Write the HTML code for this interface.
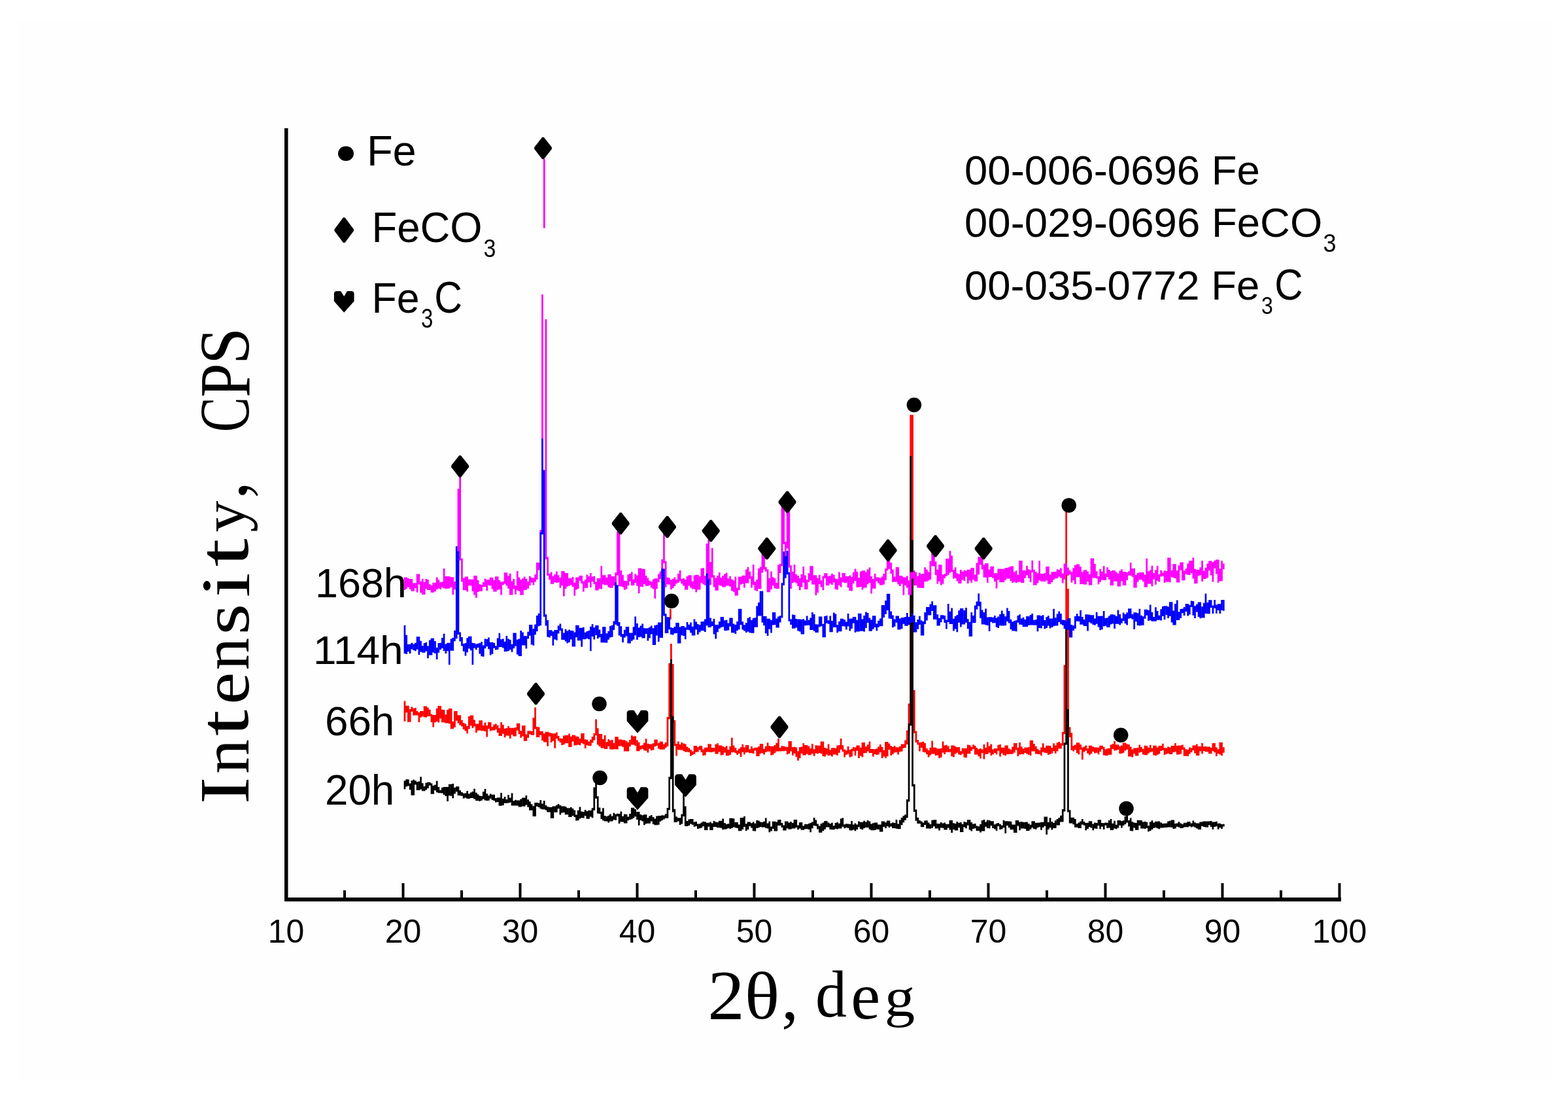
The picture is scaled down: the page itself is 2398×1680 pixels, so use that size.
<!DOCTYPE html>
<html><head><meta charset="utf-8"><title>XRD patterns</title>
<style>html,body{margin:0;padding:0;background:#fff;overflow:hidden;} svg{display:block;}</style>
</head><body>
<svg width="2398" height="1680" viewBox="0 0 2398 1680">
<rect x="0" y="0" width="2398" height="1680" fill="#ffffff"/>
<rect x="27" y="30" width="2348" height="1621" fill="#fefefe"/>
<rect x="435" y="196" width="5.5" height="1182" fill="#000"/><rect x="435" y="1372" width="1616" height="6" fill="#000"/><rect x="525.0" y="1361" width="4" height="13" fill="#000"/><rect x="614.5" y="1350" width="4" height="24" fill="#000"/><rect x="704.0" y="1361" width="4" height="13" fill="#000"/><rect x="793.5" y="1350" width="4" height="24" fill="#000"/><rect x="883.0" y="1361" width="4" height="13" fill="#000"/><rect x="972.5" y="1350" width="4" height="24" fill="#000"/><rect x="1062.0" y="1361" width="4" height="13" fill="#000"/><rect x="1151.5" y="1350" width="4" height="24" fill="#000"/><rect x="1241.0" y="1361" width="4" height="13" fill="#000"/><rect x="1330.5" y="1350" width="4" height="24" fill="#000"/><rect x="1420.0" y="1361" width="4" height="13" fill="#000"/><rect x="1509.5" y="1350" width="4" height="24" fill="#000"/><rect x="1599.0" y="1361" width="4" height="13" fill="#000"/><rect x="1688.5" y="1350" width="4" height="24" fill="#000"/><rect x="1778.0" y="1361" width="4" height="13" fill="#000"/><rect x="1867.5" y="1350" width="4" height="24" fill="#000"/><rect x="1957.0" y="1361" width="4" height="13" fill="#000"/><rect x="2046.5" y="1350" width="4" height="24" fill="#000"/>
<path fill="#ff0000" d="M617.6 1071.4h2.7V1102.7h-2.7ZM620.3 1078.8h2.7V1089.2h-2.7ZM623.0 1078.8h2.7V1103.8h-2.7ZM625.8 1083.9h2.7V1103.8h-2.7ZM628.5 1080.6h2.7V1087.9h-2.7ZM631.3 1083.0h2.7V1093.5h-2.7ZM634.0 1081.9h2.7V1093.6h-2.7ZM636.7 1087.1h2.7V1093.6h-2.7ZM639.5 1089.1h2.7V1104.0h-2.7ZM642.2 1087.1h2.7V1096.8h-2.7ZM644.9 1087.1h2.7V1095.2h-2.7ZM647.7 1079.4h2.7V1096.3h-2.7ZM650.4 1079.4h2.7V1096.7h-2.7ZM653.1 1081.8h2.7V1095.1h-2.7ZM655.9 1084.7h2.7V1094.9h-2.7ZM658.6 1091.5h2.7V1104.1h-2.7ZM661.3 1092.9h2.7V1111.6h-2.7ZM664.1 1092.9h2.7V1104.4h-2.7ZM666.8 1082.9h2.7V1103.1h-2.7ZM669.5 1079.0h2.7V1104.6h-2.7ZM672.3 1079.0h2.7V1098.6h-2.7ZM675.0 1084.7h2.7V1104.3h-2.7ZM677.7 1085.2h2.7V1104.3h-2.7ZM680.5 1092.3h2.7V1105.4h-2.7ZM683.2 1085.1h2.7V1105.4h-2.7ZM685.9 1083.1h2.7V1106.2h-2.7ZM688.7 1083.1h2.7V1114.3h-2.7ZM691.4 1102.9h2.7V1114.3h-2.7ZM694.1 1087.0h2.7V1112.0h-2.7ZM696.9 1087.0h2.7V1101.8h-2.7ZM699.6 1093.3h2.7V1105.5h-2.7ZM702.3 1093.3h2.7V1108.4h-2.7ZM705.1 1100.8h2.7V1110.5h-2.7ZM707.8 1105.1h2.7V1114.9h-2.7ZM710.6 1106.6h2.7V1117.5h-2.7ZM713.3 1110.0h2.7V1121.2h-2.7ZM716.0 1095.0h2.7V1114.5h-2.7ZM718.8 1093.6h2.7V1109.3h-2.7ZM721.5 1093.6h2.7V1113.1h-2.7ZM724.2 1100.5h2.7V1110.5h-2.7ZM727.0 1106.5h2.7V1120.0h-2.7ZM729.7 1106.5h2.7V1116.8h-2.7ZM732.4 1101.2h2.7V1116.6h-2.7ZM735.2 1101.2h2.7V1117.2h-2.7ZM737.9 1109.0h2.7V1117.2h-2.7ZM740.6 1104.4h2.7V1118.1h-2.7ZM743.4 1109.1h2.7V1126.6h-2.7ZM746.1 1103.9h2.7V1114.1h-2.7ZM748.8 1103.9h2.7V1117.4h-2.7ZM751.6 1110.9h2.7V1116.6h-2.7ZM754.3 1107.6h2.7V1116.6h-2.7ZM757.0 1106.5h2.7V1114.9h-2.7ZM759.8 1108.8h2.7V1119.9h-2.7ZM762.5 1113.2h2.7V1125.1h-2.7ZM765.2 1103.9h2.7V1125.1h-2.7ZM768.0 1107.9h2.7V1121.8h-2.7ZM770.7 1113.8h2.7V1127.3h-2.7ZM773.4 1112.9h2.7V1124.5h-2.7ZM776.2 1110.0h2.7V1124.7h-2.7ZM778.9 1112.7h2.7V1128.9h-2.7ZM781.7 1112.7h2.7V1122.9h-2.7ZM784.4 1112.7h2.7V1125.4h-2.7ZM787.1 1112.0h2.7V1125.4h-2.7ZM789.9 1105.7h2.7V1116.7h-2.7ZM792.6 1105.7h2.7V1122.0h-2.7ZM795.3 1117.3h2.7V1127.8h-2.7ZM798.1 1108.9h2.7V1125.6h-2.7ZM800.8 1108.9h2.7V1132.8h-2.7ZM803.5 1122.5h2.7V1132.8h-2.7ZM806.3 1117.3h2.7V1127.9h-2.7ZM809.0 1117.3h2.7V1122.2h-2.7ZM811.7 1117.7h2.7V1123.7h-2.7ZM814.5 1097.2h2.7V1123.7h-2.7ZM817.2 1081.5h2.7V1114.5h-2.7ZM819.9 1111.1h2.7V1126.9h-2.7ZM822.7 1111.6h2.7V1126.9h-2.7ZM825.4 1117.8h2.7V1123.7h-2.7ZM828.1 1117.8h2.7V1132.0h-2.7ZM830.9 1121.2h2.7V1134.6h-2.7ZM833.6 1118.8h2.7V1134.6h-2.7ZM836.3 1118.8h2.7V1140.7h-2.7ZM839.1 1119.8h2.7V1125.7h-2.7ZM841.8 1120.7h2.7V1134.9h-2.7ZM844.5 1121.3h2.7V1132.8h-2.7ZM847.3 1121.3h2.7V1143.8h-2.7ZM850.0 1119.5h2.7V1129.0h-2.7ZM852.7 1125.1h2.7V1132.6h-2.7ZM855.5 1128.5h2.7V1135.1h-2.7ZM858.2 1128.9h2.7V1139.1h-2.7ZM861.0 1124.4h2.7V1138.3h-2.7ZM863.7 1124.1h2.7V1136.3h-2.7ZM866.4 1124.1h2.7V1135.9h-2.7ZM869.2 1121.4h2.7V1142.0h-2.7ZM871.9 1125.8h2.7V1142.0h-2.7ZM874.6 1123.6h2.7V1133.4h-2.7ZM877.4 1123.8h2.7V1139.4h-2.7ZM880.1 1125.7h2.7V1139.2h-2.7ZM882.8 1126.0h2.7V1138.6h-2.7ZM885.6 1128.9h2.7V1139.3h-2.7ZM888.3 1120.9h2.7V1135.8h-2.7ZM891.0 1120.9h2.7V1137.5h-2.7ZM893.8 1130.3h2.7V1144.1h-2.7ZM896.5 1130.7h2.7V1139.2h-2.7ZM899.2 1133.6h2.7V1140.3h-2.7ZM902.0 1130.7h2.7V1140.3h-2.7ZM904.7 1126.1h2.7V1135.4h-2.7ZM907.4 1120.9h2.7V1131.5h-2.7ZM910.2 1099.6h2.7V1124.3h-2.7ZM912.9 1113.2h2.7V1138.5h-2.7ZM915.6 1121.9h2.7V1141.0h-2.7ZM918.4 1121.9h2.7V1143.6h-2.7ZM921.1 1129.7h2.7V1143.6h-2.7ZM923.8 1124.1h2.7V1145.0h-2.7ZM926.6 1134.3h2.7V1145.0h-2.7ZM929.3 1129.9h2.7V1140.7h-2.7ZM932.0 1131.7h2.7V1145.6h-2.7ZM934.8 1131.0h2.7V1145.8h-2.7ZM937.5 1135.7h2.7V1145.2h-2.7ZM940.3 1126.3h2.7V1145.2h-2.7ZM943.0 1126.3h2.7V1145.6h-2.7ZM945.7 1130.4h2.7V1140.4h-2.7ZM948.5 1130.3h2.7V1140.4h-2.7ZM951.2 1131.2h2.7V1141.8h-2.7ZM953.9 1131.2h2.7V1148.4h-2.7ZM956.7 1132.8h2.7V1148.5h-2.7ZM959.4 1134.8h2.7V1148.5h-2.7ZM962.1 1131.1h2.7V1141.2h-2.7ZM964.9 1124.3h2.7V1138.5h-2.7ZM967.6 1125.7h2.7V1138.5h-2.7ZM970.3 1125.3h2.7V1140.1h-2.7ZM973.1 1131.5h2.7V1148.2h-2.7ZM975.8 1134.8h2.7V1148.2h-2.7ZM978.5 1140.0h2.7V1145.8h-2.7ZM981.3 1138.7h2.7V1144.7h-2.7ZM984.0 1135.6h2.7V1147.2h-2.7ZM986.7 1129.3h2.7V1147.7h-2.7ZM989.5 1136.7h2.7V1150.4h-2.7ZM992.2 1137.5h2.7V1144.8h-2.7ZM994.9 1137.5h2.7V1147.3h-2.7ZM997.7 1136.3h2.7V1146.5h-2.7ZM1000.4 1130.6h2.7V1141.3h-2.7ZM1003.1 1130.6h2.7V1140.0h-2.7ZM1005.9 1136.1h2.7V1144.4h-2.7ZM1008.6 1133.5h2.7V1145.7h-2.7ZM1011.3 1133.7h2.7V1145.7h-2.7ZM1014.1 1137.5h2.7V1145.7h-2.7ZM1016.8 1134.8h2.7V1143.2h-2.7ZM1019.6 1096.1h2.7V1140.9h-2.7ZM1022.3 1013.8h2.7V1099.5h-2.7ZM1025.0 984.0h2.7V1018.4h-2.7ZM1027.8 1015.0h2.7V1104.5h-2.7ZM1030.5 1101.1h2.7V1140.5h-2.7ZM1033.2 1137.1h2.7V1155.6h-2.7ZM1036.0 1133.6h2.7V1146.3h-2.7ZM1038.7 1138.1h2.7V1146.5h-2.7ZM1041.4 1134.9h2.7V1146.5h-2.7ZM1044.2 1136.5h2.7V1147.9h-2.7ZM1046.9 1137.6h2.7V1149.5h-2.7ZM1049.6 1141.6h2.7V1149.5h-2.7ZM1052.4 1143.6h2.7V1149.9h-2.7ZM1055.1 1146.1h2.7V1155.7h-2.7ZM1057.8 1148.5h2.7V1153.9h-2.7ZM1060.6 1139.9h2.7V1152.7h-2.7ZM1063.3 1139.9h2.7V1149.7h-2.7ZM1066.0 1142.3h2.7V1149.4h-2.7ZM1068.8 1140.3h2.7V1146.5h-2.7ZM1071.5 1140.3h2.7V1149.7h-2.7ZM1074.2 1145.6h2.7V1155.0h-2.7ZM1077.0 1142.7h2.7V1154.6h-2.7ZM1079.7 1142.7h2.7V1149.4h-2.7ZM1082.4 1137.2h2.7V1149.4h-2.7ZM1085.2 1137.4h2.7V1150.1h-2.7ZM1087.9 1143.0h2.7V1149.7h-2.7ZM1090.6 1143.3h2.7V1149.0h-2.7ZM1093.4 1137.8h2.7V1152.5h-2.7ZM1096.1 1136.2h2.7V1152.5h-2.7ZM1098.9 1139.5h2.7V1149.6h-2.7ZM1101.6 1139.5h2.7V1154.5h-2.7ZM1104.3 1140.9h2.7V1153.7h-2.7ZM1107.1 1142.3h2.7V1150.4h-2.7ZM1109.8 1140.3h2.7V1155.2h-2.7ZM1112.5 1146.0h2.7V1155.2h-2.7ZM1115.3 1141.1h2.7V1154.0h-2.7ZM1118.0 1127.7h2.7V1150.3h-2.7ZM1120.7 1139.5h2.7V1149.8h-2.7ZM1123.5 1143.3h2.7V1151.1h-2.7ZM1126.2 1147.2h2.7V1154.0h-2.7ZM1128.9 1144.5h2.7V1151.9h-2.7ZM1131.7 1142.2h2.7V1157.0h-2.7ZM1134.4 1137.8h2.7V1149.7h-2.7ZM1137.1 1142.4h2.7V1153.3h-2.7ZM1139.9 1139.1h2.7V1150.3h-2.7ZM1142.6 1139.1h2.7V1150.0h-2.7ZM1145.3 1145.2h2.7V1151.2h-2.7ZM1148.1 1140.9h2.7V1151.2h-2.7ZM1150.8 1144.1h2.7V1152.0h-2.7ZM1153.5 1142.8h2.7V1147.5h-2.7ZM1156.3 1142.8h2.7V1156.1h-2.7ZM1159.0 1141.3h2.7V1156.1h-2.7ZM1161.7 1137.0h2.7V1152.1h-2.7ZM1164.5 1137.0h2.7V1151.3h-2.7ZM1167.2 1144.8h2.7V1153.4h-2.7ZM1169.9 1140.7h2.7V1149.7h-2.7ZM1172.7 1135.2h2.7V1148.8h-2.7ZM1175.4 1140.2h2.7V1148.8h-2.7ZM1178.2 1140.7h2.7V1154.5h-2.7ZM1180.9 1140.7h2.7V1153.7h-2.7ZM1183.6 1139.0h2.7V1151.2h-2.7ZM1186.4 1135.7h2.7V1148.7h-2.7ZM1189.1 1129.1h2.7V1148.4h-2.7ZM1191.8 1143.0h2.7V1148.4h-2.7ZM1194.6 1140.3h2.7V1148.3h-2.7ZM1197.3 1140.8h2.7V1148.2h-2.7ZM1200.0 1141.6h2.7V1147.7h-2.7ZM1202.8 1141.8h2.7V1153.3h-2.7ZM1205.5 1133.1h2.7V1151.9h-2.7ZM1208.2 1133.1h2.7V1148.6h-2.7ZM1211.0 1142.3h2.7V1154.7h-2.7ZM1213.7 1141.8h2.7V1151.7h-2.7ZM1216.4 1142.4h2.7V1157.3h-2.7ZM1219.2 1148.3h2.7V1162.7h-2.7ZM1221.9 1142.0h2.7V1159.0h-2.7ZM1224.6 1141.5h2.7V1152.0h-2.7ZM1227.4 1136.0h2.7V1154.4h-2.7ZM1230.1 1139.0h2.7V1154.4h-2.7ZM1232.8 1139.0h2.7V1152.6h-2.7ZM1235.6 1140.8h2.7V1154.3h-2.7ZM1238.3 1143.9h2.7V1154.3h-2.7ZM1241.0 1137.0h2.7V1151.9h-2.7ZM1243.8 1145.2h2.7V1155.7h-2.7ZM1246.5 1139.2h2.7V1151.6h-2.7ZM1249.2 1139.8h2.7V1152.3h-2.7ZM1252.0 1139.8h2.7V1150.9h-2.7ZM1254.7 1133.5h2.7V1152.2h-2.7ZM1257.5 1133.5h2.7V1155.9h-2.7ZM1260.2 1142.9h2.7V1156.5h-2.7ZM1262.9 1143.9h2.7V1153.5h-2.7ZM1265.7 1137.6h2.7V1155.2h-2.7ZM1268.4 1146.5h2.7V1154.4h-2.7ZM1271.1 1143.2h2.7V1156.4h-2.7ZM1273.9 1143.2h2.7V1153.5h-2.7ZM1276.6 1143.7h2.7V1153.5h-2.7ZM1279.3 1139.6h2.7V1154.7h-2.7ZM1282.1 1139.0h2.7V1150.8h-2.7ZM1284.8 1129.1h2.7V1145.7h-2.7ZM1287.5 1139.3h2.7V1149.0h-2.7ZM1290.3 1145.6h2.7V1157.4h-2.7ZM1293.0 1147.3h2.7V1153.8h-2.7ZM1295.7 1141.1h2.7V1152.6h-2.7ZM1298.5 1146.3h2.7V1157.6h-2.7ZM1301.2 1144.8h2.7V1156.6h-2.7ZM1303.9 1142.1h2.7V1148.2h-2.7ZM1306.7 1142.6h2.7V1155.1h-2.7ZM1309.4 1139.6h2.7V1147.8h-2.7ZM1312.1 1139.6h2.7V1159.1h-2.7ZM1314.9 1142.7h2.7V1155.5h-2.7ZM1317.6 1135.0h2.7V1157.6h-2.7ZM1320.3 1135.0h2.7V1151.3h-2.7ZM1323.1 1141.2h2.7V1151.3h-2.7ZM1325.8 1138.3h2.7V1148.4h-2.7ZM1328.6 1133.4h2.7V1151.0h-2.7ZM1331.3 1145.1h2.7V1151.0h-2.7ZM1334.0 1145.1h2.7V1156.4h-2.7ZM1336.8 1145.3h2.7V1152.9h-2.7ZM1339.5 1144.2h2.7V1154.1h-2.7ZM1342.2 1141.4h2.7V1153.2h-2.7ZM1345.0 1138.1h2.7V1149.9h-2.7ZM1347.7 1141.7h2.7V1159.1h-2.7ZM1350.4 1146.8h2.7V1156.4h-2.7ZM1353.2 1134.0h2.7V1158.7h-2.7ZM1355.9 1134.0h2.7V1156.3h-2.7ZM1358.6 1136.6h2.7V1146.1h-2.7ZM1361.4 1140.2h2.7V1154.7h-2.7ZM1364.1 1141.7h2.7V1153.0h-2.7ZM1366.8 1140.3h2.7V1150.5h-2.7ZM1369.6 1142.2h2.7V1150.0h-2.7ZM1372.3 1142.6h2.7V1153.4h-2.7ZM1375.0 1140.7h2.7V1149.2h-2.7ZM1377.8 1137.4h2.7V1148.8h-2.7ZM1380.5 1137.4h2.7V1143.8h-2.7ZM1383.2 1131.4h2.7V1142.9h-2.7ZM1386.0 1116.4h2.7V1138.0h-2.7ZM1388.7 1075.4h2.7V1119.8h-2.7ZM1391.4 634.2h2.7V1078.8h-2.7ZM1394.2 634.2h2.7V1058.4h-2.7ZM1396.9 1055.0h2.7V1120.8h-2.7ZM1399.6 1117.4h2.7V1134.9h-2.7ZM1402.4 1130.9h2.7V1138.5h-2.7ZM1405.1 1135.0h2.7V1148.5h-2.7ZM1407.9 1134.5h2.7V1143.0h-2.7ZM1410.6 1133.7h2.7V1149.4h-2.7ZM1413.3 1135.9h2.7V1150.3h-2.7ZM1416.1 1144.0h2.7V1153.1h-2.7ZM1418.8 1147.0h2.7V1157.4h-2.7ZM1421.5 1142.8h2.7V1154.5h-2.7ZM1424.3 1132.4h2.7V1152.4h-2.7ZM1427.0 1142.7h2.7V1152.5h-2.7ZM1429.7 1142.7h2.7V1155.0h-2.7ZM1432.5 1144.6h2.7V1154.5h-2.7ZM1435.2 1144.6h2.7V1159.1h-2.7ZM1437.9 1143.8h2.7V1157.7h-2.7ZM1440.7 1133.6h2.7V1150.6h-2.7ZM1443.4 1139.5h2.7V1153.0h-2.7ZM1446.1 1138.7h2.7V1149.7h-2.7ZM1448.9 1140.7h2.7V1149.7h-2.7ZM1451.6 1145.0h2.7V1149.5h-2.7ZM1454.3 1139.6h2.7V1156.2h-2.7ZM1457.1 1139.6h2.7V1157.5h-2.7ZM1459.8 1141.0h2.7V1152.5h-2.7ZM1462.5 1142.3h2.7V1150.7h-2.7ZM1465.3 1142.0h2.7V1153.6h-2.7ZM1468.0 1148.2h2.7V1154.2h-2.7ZM1470.7 1143.8h2.7V1152.2h-2.7ZM1473.5 1143.9h2.7V1157.7h-2.7ZM1476.2 1144.0h2.7V1158.2h-2.7ZM1478.9 1138.6h2.7V1152.2h-2.7ZM1481.7 1139.1h2.7V1152.2h-2.7ZM1484.4 1141.7h2.7V1147.8h-2.7ZM1487.2 1138.2h2.7V1145.1h-2.7ZM1489.9 1139.9h2.7V1153.4h-2.7ZM1492.6 1143.2h2.7V1153.4h-2.7ZM1495.4 1145.2h2.7V1156.0h-2.7ZM1498.1 1144.0h2.7V1159.6h-2.7ZM1500.8 1145.6h2.7V1151.3h-2.7ZM1503.6 1137.9h2.7V1160.6h-2.7ZM1506.3 1142.9h2.7V1152.7h-2.7ZM1509.0 1134.5h2.7V1152.7h-2.7ZM1511.8 1140.6h2.7V1150.4h-2.7ZM1514.5 1137.5h2.7V1155.1h-2.7ZM1517.2 1145.5h2.7V1153.2h-2.7ZM1520.0 1143.9h2.7V1151.1h-2.7ZM1522.7 1144.3h2.7V1153.2h-2.7ZM1525.4 1138.7h2.7V1147.7h-2.7ZM1528.2 1138.1h2.7V1156.6h-2.7ZM1530.9 1142.8h2.7V1151.4h-2.7ZM1533.6 1143.1h2.7V1154.2h-2.7ZM1536.4 1139.4h2.7V1155.2h-2.7ZM1539.1 1139.4h2.7V1153.1h-2.7ZM1541.8 1144.3h2.7V1153.1h-2.7ZM1544.6 1145.8h2.7V1152.8h-2.7ZM1547.3 1141.4h2.7V1152.4h-2.7ZM1550.0 1136.0h2.7V1150.6h-2.7ZM1552.8 1136.0h2.7V1146.5h-2.7ZM1555.5 1143.1h2.7V1156.1h-2.7ZM1558.2 1134.9h2.7V1153.5h-2.7ZM1561.0 1141.3h2.7V1152.9h-2.7ZM1563.7 1144.5h2.7V1153.0h-2.7ZM1566.5 1142.4h2.7V1151.0h-2.7ZM1569.2 1142.7h2.7V1152.5h-2.7ZM1571.9 1141.9h2.7V1153.8h-2.7ZM1574.7 1131.7h2.7V1154.9h-2.7ZM1577.4 1131.7h2.7V1148.4h-2.7ZM1580.1 1137.1h2.7V1148.4h-2.7ZM1582.9 1140.8h2.7V1152.4h-2.7ZM1585.6 1144.7h2.7V1152.8h-2.7ZM1588.3 1146.9h2.7V1152.8h-2.7ZM1591.1 1142.4h2.7V1154.9h-2.7ZM1593.8 1136.2h2.7V1149.4h-2.7ZM1596.5 1143.1h2.7V1150.8h-2.7ZM1599.3 1139.8h2.7V1151.1h-2.7ZM1602.0 1139.8h2.7V1154.1h-2.7ZM1604.7 1140.1h2.7V1152.7h-2.7ZM1607.5 1143.0h2.7V1151.7h-2.7ZM1610.2 1136.2h2.7V1148.3h-2.7ZM1612.9 1139.5h2.7V1151.8h-2.7ZM1615.7 1135.3h2.7V1148.5h-2.7ZM1618.4 1134.0h2.7V1144.4h-2.7ZM1621.1 1136.3h2.7V1144.4h-2.7ZM1623.9 1118.9h2.7V1139.7h-2.7ZM1626.6 1016.6h2.7V1122.3h-2.7ZM1629.3 776.6h2.7V1020.0h-2.7ZM1632.1 899.9h2.7V1114.8h-2.7ZM1634.8 1111.4h2.7V1127.1h-2.7ZM1637.5 1120.3h2.7V1146.8h-2.7ZM1640.3 1140.1h2.7V1148.6h-2.7ZM1643.0 1138.5h2.7V1146.3h-2.7ZM1645.8 1135.3h2.7V1151.2h-2.7ZM1648.5 1135.3h2.7V1153.2h-2.7ZM1651.2 1138.0h2.7V1145.9h-2.7ZM1654.0 1142.5h2.7V1161.2h-2.7ZM1656.7 1141.4h2.7V1149.4h-2.7ZM1659.4 1139.4h2.7V1147.5h-2.7ZM1662.2 1144.1h2.7V1151.7h-2.7ZM1664.9 1139.7h2.7V1154.2h-2.7ZM1667.6 1139.7h2.7V1152.2h-2.7ZM1670.4 1141.6h2.7V1148.9h-2.7ZM1673.1 1142.6h2.7V1151.5h-2.7ZM1675.8 1142.6h2.7V1150.7h-2.7ZM1678.6 1142.8h2.7V1153.3h-2.7ZM1681.3 1139.8h2.7V1149.1h-2.7ZM1684.0 1139.8h2.7V1145.2h-2.7ZM1686.8 1141.8h2.7V1154.6h-2.7ZM1689.5 1145.5h2.7V1155.1h-2.7ZM1692.2 1144.3h2.7V1155.1h-2.7ZM1695.0 1144.0h2.7V1153.7h-2.7ZM1697.7 1138.5h2.7V1153.7h-2.7ZM1700.4 1137.2h2.7V1145.1h-2.7ZM1703.2 1132.7h2.7V1147.4h-2.7ZM1705.9 1138.2h2.7V1147.1h-2.7ZM1708.6 1138.2h2.7V1146.0h-2.7ZM1711.4 1140.8h2.7V1152.1h-2.7ZM1714.1 1139.5h2.7V1152.1h-2.7ZM1716.8 1135.4h2.7V1150.7h-2.7ZM1719.6 1135.4h2.7V1147.6h-2.7ZM1722.3 1137.5h2.7V1145.7h-2.7ZM1725.1 1138.1h2.7V1156.5h-2.7ZM1727.8 1141.4h2.7V1156.5h-2.7ZM1730.5 1145.5h2.7V1157.6h-2.7ZM1733.3 1143.5h2.7V1152.2h-2.7ZM1736.0 1143.6h2.7V1155.4h-2.7ZM1738.7 1142.9h2.7V1155.3h-2.7ZM1741.5 1138.6h2.7V1150.6h-2.7ZM1744.2 1142.0h2.7V1149.5h-2.7ZM1746.9 1144.8h2.7V1153.5h-2.7ZM1749.7 1139.7h2.7V1154.3h-2.7ZM1752.4 1140.1h2.7V1154.3h-2.7ZM1755.1 1142.7h2.7V1151.8h-2.7ZM1757.9 1138.8h2.7V1149.8h-2.7ZM1760.6 1143.8h2.7V1149.1h-2.7ZM1763.3 1139.7h2.7V1154.6h-2.7ZM1766.1 1139.7h2.7V1155.3h-2.7ZM1768.8 1142.5h2.7V1153.7h-2.7ZM1771.5 1139.9h2.7V1152.6h-2.7ZM1774.3 1139.9h2.7V1147.9h-2.7ZM1777.0 1136.8h2.7V1146.7h-2.7ZM1779.7 1143.0h2.7V1153.9h-2.7ZM1782.5 1143.4h2.7V1152.8h-2.7ZM1785.2 1141.4h2.7V1151.7h-2.7ZM1787.9 1142.6h2.7V1153.0h-2.7ZM1790.7 1140.1h2.7V1153.0h-2.7ZM1793.4 1140.1h2.7V1150.0h-2.7ZM1796.1 1136.0h2.7V1149.3h-2.7ZM1798.9 1140.0h2.7V1153.6h-2.7ZM1801.6 1139.4h2.7V1153.6h-2.7ZM1804.4 1139.4h2.7V1152.4h-2.7ZM1807.1 1138.4h2.7V1146.1h-2.7ZM1809.8 1142.6h2.7V1155.8h-2.7ZM1812.6 1145.3h2.7V1155.8h-2.7ZM1815.3 1145.9h2.7V1155.9h-2.7ZM1818.0 1142.6h2.7V1152.6h-2.7ZM1820.8 1143.6h2.7V1150.0h-2.7ZM1823.5 1139.5h2.7V1147.0h-2.7ZM1826.2 1139.5h2.7V1151.5h-2.7ZM1829.0 1137.6h2.7V1155.0h-2.7ZM1831.7 1140.9h2.7V1155.0h-2.7ZM1834.4 1140.9h2.7V1148.6h-2.7ZM1837.2 1136.1h2.7V1152.3h-2.7ZM1839.9 1141.2h2.7V1148.1h-2.7ZM1842.6 1141.1h2.7V1149.3h-2.7ZM1845.4 1141.6h2.7V1149.3h-2.7ZM1848.1 1141.6h2.7V1152.3h-2.7ZM1850.8 1142.9h2.7V1152.3h-2.7ZM1853.6 1136.0h2.7V1148.2h-2.7ZM1856.3 1136.0h2.7V1150.2h-2.7ZM1859.0 1142.6h2.7V1155.9h-2.7ZM1861.8 1145.2h2.7V1152.1h-2.7ZM1864.5 1134.8h2.7V1153.6h-2.7ZM1867.2 1134.8h2.7V1155.3h-2.7ZM1870.0 1142.2h2.7V1150.8h-2.7Z"/><rect x="1024" y="930.7" width="2.7" height="16.3" fill="#ff0000"/><path fill="#000000" d="M617.6 1193.4h2.7V1206.5h-2.7ZM620.3 1191.3h2.7V1202.4h-2.7ZM623.0 1191.6h2.7V1201.4h-2.7ZM625.8 1197.6h2.7V1207.3h-2.7ZM628.5 1193.2h2.7V1215.7h-2.7ZM631.3 1191.8h2.7V1215.7h-2.7ZM634.0 1193.5h2.7V1199.5h-2.7ZM636.7 1195.2h2.7V1208.1h-2.7ZM639.5 1194.4h2.7V1208.1h-2.7ZM642.2 1187.6h2.7V1206.8h-2.7ZM644.9 1197.2h2.7V1209.3h-2.7ZM647.7 1202.1h2.7V1209.3h-2.7ZM650.4 1196.8h2.7V1207.4h-2.7ZM653.1 1195.8h2.7V1205.1h-2.7ZM655.9 1195.8h2.7V1200.8h-2.7ZM658.6 1197.4h2.7V1213.7h-2.7ZM661.3 1201.0h2.7V1213.7h-2.7ZM664.1 1199.8h2.7V1208.2h-2.7ZM666.8 1193.7h2.7V1211.2h-2.7ZM669.5 1202.9h2.7V1212.2h-2.7ZM672.3 1207.8h2.7V1212.2h-2.7ZM675.0 1204.1h2.7V1212.4h-2.7ZM677.7 1202.9h2.7V1215.0h-2.7ZM680.5 1202.9h2.7V1216.9h-2.7ZM683.2 1203.0h2.7V1225.0h-2.7ZM685.9 1198.8h2.7V1216.2h-2.7ZM688.7 1198.8h2.7V1216.7h-2.7ZM691.4 1198.1h2.7V1220.3h-2.7ZM694.1 1204.1h2.7V1213.4h-2.7ZM696.9 1202.2h2.7V1210.3h-2.7ZM699.6 1202.3h2.7V1215.9h-2.7ZM702.3 1208.3h2.7V1216.3h-2.7ZM705.1 1211.0h2.7V1216.8h-2.7ZM707.8 1212.8h2.7V1220.5h-2.7ZM710.6 1212.6h2.7V1219.5h-2.7ZM713.3 1209.0h2.7V1220.9h-2.7ZM716.0 1213.6h2.7V1220.9h-2.7ZM718.8 1211.4h2.7V1220.1h-2.7ZM721.5 1210.1h2.7V1220.1h-2.7ZM724.2 1205.8h2.7V1221.6h-2.7ZM727.0 1211.7h2.7V1224.0h-2.7ZM729.7 1214.3h2.7V1224.0h-2.7ZM732.4 1216.4h2.7V1224.7h-2.7ZM735.2 1217.1h2.7V1223.8h-2.7ZM737.9 1210.3h2.7V1221.4h-2.7ZM740.6 1206.1h2.7V1223.5h-2.7ZM743.4 1213.3h2.7V1224.1h-2.7ZM746.1 1216.3h2.7V1223.8h-2.7ZM748.8 1213.5h2.7V1220.7h-2.7ZM751.6 1214.7h2.7V1223.1h-2.7ZM754.3 1214.7h2.7V1224.1h-2.7ZM757.0 1219.9h2.7V1226.4h-2.7ZM759.8 1219.3h2.7V1226.1h-2.7ZM762.5 1219.3h2.7V1231.7h-2.7ZM765.2 1211.9h2.7V1231.7h-2.7ZM768.0 1220.7h2.7V1231.0h-2.7ZM770.7 1218.0h2.7V1227.7h-2.7ZM773.4 1222.0h2.7V1227.7h-2.7ZM776.2 1215.2h2.7V1227.4h-2.7ZM778.9 1219.5h2.7V1226.8h-2.7ZM781.7 1212.6h2.7V1231.5h-2.7ZM784.4 1224.3h2.7V1231.5h-2.7ZM787.1 1222.7h2.7V1231.5h-2.7ZM789.9 1223.5h2.7V1231.5h-2.7ZM792.6 1223.5h2.7V1233.6h-2.7ZM795.3 1221.4h2.7V1233.5h-2.7ZM798.1 1219.6h2.7V1232.4h-2.7ZM800.8 1219.4h2.7V1232.7h-2.7ZM803.5 1216.0h2.7V1230.6h-2.7ZM806.3 1222.2h2.7V1233.7h-2.7ZM809.0 1225.3h2.7V1238.7h-2.7ZM811.7 1229.3h2.7V1238.7h-2.7ZM814.5 1232.2h2.7V1248.0h-2.7ZM817.2 1227.0h2.7V1248.0h-2.7ZM819.9 1227.0h2.7V1232.7h-2.7ZM822.7 1227.5h2.7V1233.9h-2.7ZM825.4 1223.1h2.7V1236.2h-2.7ZM828.1 1228.5h2.7V1237.2h-2.7ZM830.9 1223.9h2.7V1237.2h-2.7ZM833.6 1231.1h2.7V1238.5h-2.7ZM836.3 1233.2h2.7V1241.6h-2.7ZM839.1 1233.7h2.7V1241.6h-2.7ZM841.8 1234.1h2.7V1250.8h-2.7ZM844.5 1232.4h2.7V1250.8h-2.7ZM847.3 1232.4h2.7V1241.7h-2.7ZM850.0 1230.8h2.7V1241.7h-2.7ZM852.7 1229.0h2.7V1236.2h-2.7ZM855.5 1231.0h2.7V1245.6h-2.7ZM858.2 1232.5h2.7V1242.4h-2.7ZM861.0 1232.5h2.7V1241.9h-2.7ZM863.7 1232.9h2.7V1245.3h-2.7ZM866.4 1235.2h2.7V1245.3h-2.7ZM869.2 1235.2h2.7V1249.1h-2.7ZM871.9 1234.1h2.7V1249.1h-2.7ZM874.6 1235.9h2.7V1246.9h-2.7ZM877.4 1238.5h2.7V1249.0h-2.7ZM880.1 1245.6h2.7V1254.5h-2.7ZM882.8 1238.7h2.7V1254.3h-2.7ZM885.6 1233.6h2.7V1251.5h-2.7ZM888.3 1240.5h2.7V1250.3h-2.7ZM891.0 1241.0h2.7V1250.5h-2.7ZM893.8 1238.1h2.7V1247.3h-2.7ZM896.5 1240.0h2.7V1251.8h-2.7ZM899.2 1238.7h2.7V1251.8h-2.7ZM902.0 1238.8h2.7V1248.5h-2.7ZM904.7 1235.3h2.7V1250.2h-2.7ZM907.4 1203.6h2.7V1238.7h-2.7ZM910.2 1197.0h2.7V1220.7h-2.7ZM912.9 1217.3h2.7V1243.6h-2.7ZM915.6 1234.6h2.7V1244.1h-2.7ZM918.4 1240.7h2.7V1252.0h-2.7ZM921.1 1235.2h2.7V1254.3h-2.7ZM923.8 1247.1h2.7V1255.4h-2.7ZM926.6 1248.1h2.7V1255.4h-2.7ZM929.3 1246.8h2.7V1257.6h-2.7ZM932.0 1244.5h2.7V1255.5h-2.7ZM934.8 1247.4h2.7V1255.5h-2.7ZM937.5 1242.7h2.7V1253.3h-2.7ZM940.3 1244.5h2.7V1253.8h-2.7ZM943.0 1243.7h2.7V1247.9h-2.7ZM945.7 1243.9h2.7V1259.0h-2.7ZM948.5 1240.6h2.7V1256.3h-2.7ZM951.2 1247.7h2.7V1256.6h-2.7ZM953.9 1244.5h2.7V1258.6h-2.7ZM956.7 1244.8h2.7V1258.6h-2.7ZM959.4 1248.5h2.7V1254.2h-2.7ZM962.1 1244.1h2.7V1253.0h-2.7ZM964.9 1234.7h2.7V1252.2h-2.7ZM967.6 1234.7h2.7V1250.5h-2.7ZM970.3 1237.0h2.7V1248.2h-2.7ZM973.1 1241.1h2.7V1253.0h-2.7ZM975.8 1241.1h2.7V1261.8h-2.7ZM978.5 1245.0h2.7V1253.9h-2.7ZM981.3 1246.2h2.7V1255.4h-2.7ZM984.0 1245.3h2.7V1261.2h-2.7ZM986.7 1245.3h2.7V1259.2h-2.7ZM989.5 1250.2h2.7V1258.7h-2.7ZM992.2 1247.5h2.7V1258.8h-2.7ZM994.9 1246.1h2.7V1255.5h-2.7ZM997.7 1249.0h2.7V1259.8h-2.7ZM1000.4 1251.6h2.7V1261.3h-2.7ZM1003.1 1247.5h2.7V1261.3h-2.7ZM1005.9 1247.1h2.7V1260.7h-2.7ZM1008.6 1247.1h2.7V1255.7h-2.7ZM1011.3 1246.3h2.7V1254.0h-2.7ZM1014.1 1246.4h2.7V1252.6h-2.7ZM1016.8 1244.3h2.7V1250.8h-2.7ZM1019.6 1234.9h2.7V1250.8h-2.7ZM1022.3 1187.6h2.7V1238.3h-2.7ZM1025.0 1007.7h2.7V1191.0h-2.7ZM1027.8 1094.9h2.7V1241.5h-2.7ZM1030.5 1236.8h2.7V1256.9h-2.7ZM1033.2 1248.2h2.7V1256.9h-2.7ZM1036.0 1250.3h2.7V1255.4h-2.7ZM1038.7 1250.3h2.7V1260.9h-2.7ZM1041.4 1244.6h2.7V1259.4h-2.7ZM1044.2 1213.5h2.7V1248.0h-2.7ZM1046.9 1232.5h2.7V1262.9h-2.7ZM1049.6 1255.1h2.7V1262.9h-2.7ZM1052.4 1252.6h2.7V1261.9h-2.7ZM1055.1 1252.1h2.7V1259.5h-2.7ZM1057.8 1252.1h2.7V1260.7h-2.7ZM1060.6 1256.4h2.7V1263.8h-2.7ZM1063.3 1256.1h2.7V1262.9h-2.7ZM1066.0 1259.5h2.7V1266.9h-2.7ZM1068.8 1259.3h2.7V1266.3h-2.7ZM1071.5 1257.5h2.7V1265.6h-2.7ZM1074.2 1255.7h2.7V1263.2h-2.7ZM1077.0 1256.2h2.7V1269.1h-2.7ZM1079.7 1257.7h2.7V1269.1h-2.7ZM1082.4 1257.7h2.7V1263.7h-2.7ZM1085.2 1256.4h2.7V1269.1h-2.7ZM1087.9 1258.4h2.7V1269.1h-2.7ZM1090.6 1255.0h2.7V1263.9h-2.7ZM1093.4 1256.4h2.7V1264.0h-2.7ZM1096.1 1257.1h2.7V1265.2h-2.7ZM1098.9 1254.7h2.7V1265.2h-2.7ZM1101.6 1254.7h2.7V1265.8h-2.7ZM1104.3 1251.4h2.7V1268.3h-2.7ZM1107.1 1258.1h2.7V1267.7h-2.7ZM1109.8 1260.0h2.7V1267.2h-2.7ZM1112.5 1259.2h2.7V1266.1h-2.7ZM1115.3 1250.8h2.7V1266.9h-2.7ZM1118.0 1250.8h2.7V1266.1h-2.7ZM1120.7 1251.2h2.7V1264.4h-2.7ZM1123.5 1257.0h2.7V1265.3h-2.7ZM1126.2 1257.1h2.7V1266.0h-2.7ZM1128.9 1260.5h2.7V1270.2h-2.7ZM1131.7 1249.9h2.7V1270.2h-2.7ZM1134.4 1249.9h2.7V1267.9h-2.7ZM1137.1 1247.8h2.7V1263.9h-2.7ZM1139.9 1259.3h2.7V1270.0h-2.7ZM1142.6 1256.6h2.7V1267.9h-2.7ZM1145.3 1256.6h2.7V1262.9h-2.7ZM1148.1 1258.3h2.7V1265.6h-2.7ZM1150.8 1256.6h2.7V1270.2h-2.7ZM1153.5 1258.8h2.7V1270.5h-2.7ZM1156.3 1254.1h2.7V1266.0h-2.7ZM1159.0 1254.5h2.7V1265.2h-2.7ZM1161.7 1256.6h2.7V1264.1h-2.7ZM1164.5 1257.1h2.7V1264.8h-2.7ZM1167.2 1255.7h2.7V1264.5h-2.7ZM1169.9 1250.4h2.7V1265.7h-2.7ZM1172.7 1258.5h2.7V1266.5h-2.7ZM1175.4 1255.6h2.7V1272.2h-2.7ZM1178.2 1263.5h2.7V1270.6h-2.7ZM1180.9 1255.8h2.7V1267.1h-2.7ZM1183.6 1255.8h2.7V1270.6h-2.7ZM1186.4 1256.4h2.7V1270.6h-2.7ZM1189.1 1253.3h2.7V1261.9h-2.7ZM1191.8 1253.1h2.7V1262.0h-2.7ZM1194.6 1258.1h2.7V1264.9h-2.7ZM1197.3 1261.5h2.7V1269.5h-2.7ZM1200.0 1255.4h2.7V1269.5h-2.7ZM1202.8 1255.4h2.7V1266.2h-2.7ZM1205.5 1257.4h2.7V1267.8h-2.7ZM1208.2 1256.2h2.7V1267.6h-2.7ZM1211.0 1258.0h2.7V1266.4h-2.7ZM1213.7 1252.9h2.7V1266.4h-2.7ZM1216.4 1252.9h2.7V1265.0h-2.7ZM1219.2 1261.6h2.7V1268.3h-2.7ZM1221.9 1257.3h2.7V1266.4h-2.7ZM1224.6 1257.1h2.7V1268.8h-2.7ZM1227.4 1262.4h2.7V1268.8h-2.7ZM1230.1 1259.8h2.7V1267.3h-2.7ZM1232.8 1260.0h2.7V1267.3h-2.7ZM1235.6 1259.1h2.7V1268.1h-2.7ZM1238.3 1258.0h2.7V1272.3h-2.7ZM1241.0 1256.6h2.7V1266.3h-2.7ZM1243.8 1250.1h2.7V1262.0h-2.7ZM1246.5 1253.6h2.7V1262.8h-2.7ZM1249.2 1259.4h2.7V1267.5h-2.7ZM1252.0 1262.4h2.7V1272.7h-2.7ZM1254.7 1258.9h2.7V1272.7h-2.7ZM1257.5 1257.6h2.7V1270.3h-2.7ZM1260.2 1254.9h2.7V1267.7h-2.7ZM1262.9 1254.9h2.7V1264.4h-2.7ZM1265.7 1257.5h2.7V1264.5h-2.7ZM1268.4 1259.3h2.7V1267.9h-2.7ZM1271.1 1257.8h2.7V1268.3h-2.7ZM1273.9 1262.2h2.7V1268.3h-2.7ZM1276.6 1258.1h2.7V1266.8h-2.7ZM1279.3 1257.0h2.7V1267.5h-2.7ZM1282.1 1258.7h2.7V1266.5h-2.7ZM1284.8 1251.5h2.7V1266.5h-2.7ZM1287.5 1250.3h2.7V1263.7h-2.7ZM1290.3 1260.3h2.7V1266.2h-2.7ZM1293.0 1259.2h2.7V1265.1h-2.7ZM1295.7 1259.6h2.7V1265.7h-2.7ZM1298.5 1259.7h2.7V1269.2h-2.7ZM1301.2 1255.0h2.7V1269.6h-2.7ZM1303.9 1260.6h2.7V1268.4h-2.7ZM1306.7 1258.5h2.7V1270.2h-2.7ZM1309.4 1260.4h2.7V1268.0h-2.7ZM1312.1 1255.6h2.7V1264.3h-2.7ZM1314.9 1256.7h2.7V1267.3h-2.7ZM1317.6 1256.7h2.7V1268.3h-2.7ZM1320.3 1254.8h2.7V1265.9h-2.7ZM1323.1 1256.4h2.7V1264.9h-2.7ZM1325.8 1254.0h2.7V1264.9h-2.7ZM1328.6 1255.6h2.7V1267.8h-2.7ZM1331.3 1259.6h2.7V1269.3h-2.7ZM1334.0 1258.3h2.7V1269.3h-2.7ZM1336.8 1257.6h2.7V1269.0h-2.7ZM1339.5 1257.6h2.7V1267.8h-2.7ZM1342.2 1260.4h2.7V1267.9h-2.7ZM1345.0 1260.5h2.7V1271.5h-2.7ZM1347.7 1255.6h2.7V1271.5h-2.7ZM1350.4 1255.6h2.7V1264.0h-2.7ZM1353.2 1257.3h2.7V1265.9h-2.7ZM1355.9 1254.6h2.7V1263.1h-2.7ZM1358.6 1254.6h2.7V1265.0h-2.7ZM1361.4 1258.5h2.7V1263.5h-2.7ZM1364.1 1257.3h2.7V1266.0h-2.7ZM1366.8 1258.1h2.7V1266.0h-2.7ZM1369.6 1252.9h2.7V1266.7h-2.7ZM1372.3 1259.6h2.7V1267.2h-2.7ZM1375.0 1253.6h2.7V1267.2h-2.7ZM1377.8 1250.0h2.7V1261.2h-2.7ZM1380.5 1247.2h2.7V1257.2h-2.7ZM1383.2 1245.2h2.7V1253.7h-2.7ZM1386.0 1222.0h2.7V1250.2h-2.7ZM1388.7 1105.9h2.7V1225.4h-2.7ZM1391.4 697.0h2.7V1109.3h-2.7ZM1394.2 825.6h2.7V1202.2h-2.7ZM1396.9 1198.8h2.7V1241.0h-2.7ZM1399.6 1237.6h2.7V1254.7h-2.7ZM1402.4 1249.7h2.7V1259.1h-2.7ZM1405.1 1254.1h2.7V1258.9h-2.7ZM1407.9 1255.5h2.7V1264.3h-2.7ZM1410.6 1257.5h2.7V1264.3h-2.7ZM1413.3 1254.5h2.7V1260.9h-2.7ZM1416.1 1254.3h2.7V1266.4h-2.7ZM1418.8 1257.5h2.7V1266.4h-2.7ZM1421.5 1260.1h2.7V1266.8h-2.7ZM1424.3 1253.7h2.7V1265.8h-2.7ZM1427.0 1253.2h2.7V1263.3h-2.7ZM1429.7 1253.2h2.7V1266.6h-2.7ZM1432.5 1259.0h2.7V1266.5h-2.7ZM1435.2 1259.2h2.7V1269.4h-2.7ZM1437.9 1257.0h2.7V1265.5h-2.7ZM1440.7 1258.6h2.7V1265.7h-2.7ZM1443.4 1257.4h2.7V1268.4h-2.7ZM1446.1 1259.7h2.7V1268.4h-2.7ZM1448.9 1259.7h2.7V1265.4h-2.7ZM1451.6 1254.1h2.7V1268.4h-2.7ZM1454.3 1254.1h2.7V1272.9h-2.7ZM1457.1 1258.3h2.7V1268.0h-2.7ZM1459.8 1258.9h2.7V1269.5h-2.7ZM1462.5 1256.1h2.7V1269.5h-2.7ZM1465.3 1257.7h2.7V1265.2h-2.7ZM1468.0 1257.1h2.7V1272.1h-2.7ZM1470.7 1259.8h2.7V1272.1h-2.7ZM1473.5 1256.0h2.7V1264.4h-2.7ZM1476.2 1257.0h2.7V1266.2h-2.7ZM1478.9 1253.2h2.7V1261.7h-2.7ZM1481.7 1253.2h2.7V1268.6h-2.7ZM1484.4 1256.9h2.7V1270.4h-2.7ZM1487.2 1259.5h2.7V1267.1h-2.7ZM1489.9 1258.9h2.7V1266.3h-2.7ZM1492.6 1262.4h2.7V1269.9h-2.7ZM1495.4 1263.3h2.7V1269.9h-2.7ZM1498.1 1260.1h2.7V1272.5h-2.7ZM1500.8 1254.3h2.7V1270.4h-2.7ZM1503.6 1252.9h2.7V1270.5h-2.7ZM1506.3 1256.6h2.7V1263.7h-2.7ZM1509.0 1253.6h2.7V1265.9h-2.7ZM1511.8 1254.0h2.7V1266.2h-2.7ZM1514.5 1255.2h2.7V1262.3h-2.7ZM1517.2 1255.2h2.7V1266.0h-2.7ZM1520.0 1260.2h2.7V1267.3h-2.7ZM1522.7 1258.8h2.7V1270.1h-2.7ZM1525.4 1258.1h2.7V1263.1h-2.7ZM1528.2 1259.7h2.7V1267.9h-2.7ZM1530.9 1261.8h2.7V1267.5h-2.7ZM1533.6 1253.7h2.7V1265.2h-2.7ZM1536.4 1255.2h2.7V1273.9h-2.7ZM1539.1 1255.2h2.7V1262.0h-2.7ZM1541.8 1255.4h2.7V1265.3h-2.7ZM1544.6 1255.8h2.7V1268.3h-2.7ZM1547.3 1260.6h2.7V1268.3h-2.7ZM1550.0 1260.6h2.7V1272.9h-2.7ZM1552.8 1254.1h2.7V1272.9h-2.7ZM1555.5 1254.1h2.7V1262.5h-2.7ZM1558.2 1256.4h2.7V1269.2h-2.7ZM1561.0 1255.9h2.7V1266.4h-2.7ZM1563.7 1256.8h2.7V1266.4h-2.7ZM1566.5 1256.8h2.7V1266.9h-2.7ZM1569.2 1256.4h2.7V1270.1h-2.7ZM1571.9 1258.9h2.7V1270.1h-2.7ZM1574.7 1260.8h2.7V1267.8h-2.7ZM1577.4 1255.3h2.7V1265.2h-2.7ZM1580.1 1255.3h2.7V1267.3h-2.7ZM1582.9 1257.8h2.7V1267.7h-2.7ZM1585.6 1257.8h2.7V1265.3h-2.7ZM1588.3 1257.6h2.7V1264.3h-2.7ZM1591.1 1256.8h2.7V1268.7h-2.7ZM1593.8 1256.8h2.7V1264.9h-2.7ZM1596.5 1248.5h2.7V1262.7h-2.7ZM1599.3 1248.5h2.7V1275.7h-2.7ZM1602.0 1256.9h2.7V1268.0h-2.7ZM1604.7 1250.2h2.7V1265.3h-2.7ZM1607.5 1256.1h2.7V1268.6h-2.7ZM1610.2 1258.1h2.7V1265.9h-2.7ZM1612.9 1254.3h2.7V1265.9h-2.7ZM1615.7 1252.1h2.7V1261.4h-2.7ZM1618.4 1250.1h2.7V1261.6h-2.7ZM1621.1 1246.8h2.7V1256.6h-2.7ZM1623.9 1237.0h2.7V1256.6h-2.7ZM1626.6 1135.2h2.7V1240.4h-2.7ZM1629.3 957.1h2.7V1138.6h-2.7ZM1632.1 1083.9h2.7V1241.6h-2.7ZM1634.8 1238.2h2.7V1258.5h-2.7ZM1637.5 1249.7h2.7V1258.5h-2.7ZM1640.3 1249.7h2.7V1260.3h-2.7ZM1643.0 1252.1h2.7V1264.7h-2.7ZM1645.8 1259.2h2.7V1264.7h-2.7ZM1648.5 1257.6h2.7V1266.1h-2.7ZM1651.2 1255.4h2.7V1266.1h-2.7ZM1654.0 1251.9h2.7V1260.4h-2.7ZM1656.7 1256.0h2.7V1261.8h-2.7ZM1659.4 1258.0h2.7V1269.2h-2.7ZM1662.2 1257.8h2.7V1266.9h-2.7ZM1664.9 1255.2h2.7V1264.3h-2.7ZM1667.6 1255.2h2.7V1265.5h-2.7ZM1670.4 1259.5h2.7V1269.3h-2.7ZM1673.1 1257.6h2.7V1266.6h-2.7ZM1675.8 1258.1h2.7V1267.1h-2.7ZM1678.6 1253.2h2.7V1262.3h-2.7ZM1681.3 1253.2h2.7V1267.3h-2.7ZM1684.0 1258.1h2.7V1263.7h-2.7ZM1686.8 1258.3h2.7V1268.0h-2.7ZM1689.5 1257.6h2.7V1261.7h-2.7ZM1692.2 1257.7h2.7V1266.0h-2.7ZM1695.0 1253.9h2.7V1265.5h-2.7ZM1697.7 1252.0h2.7V1269.1h-2.7ZM1700.4 1258.7h2.7V1269.1h-2.7ZM1703.2 1254.8h2.7V1266.6h-2.7ZM1705.9 1260.7h2.7V1267.3h-2.7ZM1708.6 1254.1h2.7V1265.6h-2.7ZM1711.4 1254.1h2.7V1261.8h-2.7ZM1714.1 1255.3h2.7V1265.5h-2.7ZM1716.8 1254.2h2.7V1262.0h-2.7ZM1719.6 1247.9h2.7V1260.0h-2.7ZM1722.3 1246.1h2.7V1257.4h-2.7ZM1725.1 1254.0h2.7V1263.5h-2.7ZM1727.8 1250.6h2.7V1269.9h-2.7ZM1730.5 1256.3h2.7V1270.5h-2.7ZM1733.3 1257.4h2.7V1265.6h-2.7ZM1736.0 1258.1h2.7V1268.8h-2.7ZM1738.7 1253.7h2.7V1268.8h-2.7ZM1741.5 1253.9h2.7V1261.9h-2.7ZM1744.2 1254.1h2.7V1266.5h-2.7ZM1746.9 1256.4h2.7V1266.5h-2.7ZM1749.7 1255.7h2.7V1266.9h-2.7ZM1752.4 1256.7h2.7V1265.8h-2.7ZM1755.1 1262.2h2.7V1271.2h-2.7ZM1757.9 1256.4h2.7V1270.0h-2.7ZM1760.6 1254.2h2.7V1267.9h-2.7ZM1763.3 1257.4h2.7V1265.8h-2.7ZM1766.1 1255.7h2.7V1264.9h-2.7ZM1768.8 1255.7h2.7V1266.2h-2.7ZM1771.5 1255.4h2.7V1267.3h-2.7ZM1774.3 1257.5h2.7V1265.5h-2.7ZM1777.0 1259.0h2.7V1265.6h-2.7ZM1779.7 1258.7h2.7V1265.1h-2.7ZM1782.5 1258.5h2.7V1265.1h-2.7ZM1785.2 1255.4h2.7V1264.5h-2.7ZM1787.9 1254.8h2.7V1264.5h-2.7ZM1790.7 1253.5h2.7V1264.8h-2.7ZM1793.4 1253.5h2.7V1266.9h-2.7ZM1796.1 1259.1h2.7V1266.6h-2.7ZM1798.9 1258.5h2.7V1263.8h-2.7ZM1801.6 1256.3h2.7V1264.4h-2.7ZM1804.4 1258.4h2.7V1266.0h-2.7ZM1807.1 1260.0h2.7V1266.0h-2.7ZM1809.8 1257.8h2.7V1264.4h-2.7ZM1812.6 1257.8h2.7V1264.3h-2.7ZM1815.3 1256.0h2.7V1264.6h-2.7ZM1818.0 1256.1h2.7V1262.9h-2.7ZM1820.8 1258.6h2.7V1264.4h-2.7ZM1823.5 1254.4h2.7V1263.4h-2.7ZM1826.2 1257.2h2.7V1264.7h-2.7ZM1829.0 1258.6h2.7V1266.2h-2.7ZM1831.7 1258.6h2.7V1268.0h-2.7ZM1834.4 1256.4h2.7V1268.0h-2.7ZM1837.2 1256.3h2.7V1263.0h-2.7ZM1839.9 1255.4h2.7V1264.0h-2.7ZM1842.6 1255.4h2.7V1264.5h-2.7ZM1845.4 1255.6h2.7V1264.7h-2.7ZM1848.1 1255.5h2.7V1261.2h-2.7ZM1850.8 1255.0h2.7V1264.1h-2.7ZM1853.6 1256.6h2.7V1267.8h-2.7ZM1856.3 1256.6h2.7V1264.1h-2.7ZM1859.0 1255.7h2.7V1263.2h-2.7ZM1861.8 1258.7h2.7V1267.7h-2.7ZM1864.5 1258.7h2.7V1265.3h-2.7ZM1867.2 1260.1h2.7V1266.9h-2.7ZM1870.0 1259.8h2.7V1263.5h-2.7Z"/><path fill="#ff00ff" d="M617.6 882.6h2.7V902.1h-2.7ZM620.3 882.6h2.7V900.1h-2.7ZM623.0 884.1h2.7V897.5h-2.7ZM625.8 884.9h2.7V900.8h-2.7ZM628.5 884.9h2.7V903.8h-2.7ZM631.3 891.3h2.7V903.8h-2.7ZM634.0 891.3h2.7V899.0h-2.7ZM636.7 877.4h2.7V905.6h-2.7ZM639.5 877.4h2.7V893.5h-2.7ZM642.2 888.8h2.7V905.9h-2.7ZM644.9 884.7h2.7V909.1h-2.7ZM647.7 889.8h2.7V909.1h-2.7ZM650.4 884.9h2.7V900.1h-2.7ZM653.1 886.1h2.7V901.9h-2.7ZM655.9 892.9h2.7V901.9h-2.7ZM658.6 894.7h2.7V905.7h-2.7ZM661.3 890.7h2.7V905.7h-2.7ZM664.1 890.7h2.7V904.2h-2.7ZM666.8 882.4h2.7V901.2h-2.7ZM669.5 886.2h2.7V899.4h-2.7ZM672.3 890.0h2.7V901.1h-2.7ZM675.0 889.6h2.7V898.0h-2.7ZM677.7 869.0h2.7V899.2h-2.7ZM680.5 881.1h2.7V900.3h-2.7ZM683.2 881.1h2.7V899.7h-2.7ZM685.9 880.9h2.7V899.6h-2.7ZM688.7 882.3h2.7V897.8h-2.7ZM691.4 882.2h2.7V909.1h-2.7ZM694.1 889.0h2.7V901.2h-2.7ZM696.9 875.0h2.7V893.0h-2.7ZM699.6 747.2h2.7V878.4h-2.7ZM702.3 718.0h2.7V856.8h-2.7ZM705.1 853.4h2.7V889.5h-2.7ZM707.8 883.8h2.7V902.2h-2.7ZM710.6 881.4h2.7V902.2h-2.7ZM713.3 881.4h2.7V904.6h-2.7ZM716.0 885.4h2.7V895.2h-2.7ZM718.8 885.8h2.7V895.2h-2.7ZM721.5 885.8h2.7V903.9h-2.7ZM724.2 880.0h2.7V909.4h-2.7ZM727.0 880.0h2.7V913.9h-2.7ZM729.7 886.7h2.7V905.0h-2.7ZM732.4 893.0h2.7V903.8h-2.7ZM735.2 893.9h2.7V903.8h-2.7ZM737.9 889.8h2.7V897.3h-2.7ZM740.6 884.5h2.7V896.9h-2.7ZM743.4 886.3h2.7V903.0h-2.7ZM746.1 885.9h2.7V894.7h-2.7ZM748.8 882.7h2.7V895.4h-2.7ZM751.6 882.7h2.7V900.4h-2.7ZM754.3 886.7h2.7V904.4h-2.7ZM757.0 881.3h2.7V904.4h-2.7ZM759.8 881.3h2.7V902.0h-2.7ZM762.5 886.9h2.7V900.9h-2.7ZM765.2 889.6h2.7V909.6h-2.7ZM768.0 889.1h2.7V894.2h-2.7ZM770.7 875.3h2.7V892.5h-2.7ZM773.4 875.3h2.7V895.4h-2.7ZM776.2 880.3h2.7V899.7h-2.7ZM778.9 876.8h2.7V909.6h-2.7ZM781.7 888.6h2.7V909.6h-2.7ZM784.4 885.0h2.7V900.6h-2.7ZM787.1 895.0h2.7V908.6h-2.7ZM789.9 873.1h2.7V902.4h-2.7ZM792.6 882.4h2.7V903.7h-2.7ZM795.3 886.1h2.7V909.7h-2.7ZM798.1 884.3h2.7V909.6h-2.7ZM800.8 881.5h2.7V901.8h-2.7ZM803.5 884.8h2.7V901.8h-2.7ZM806.3 889.0h2.7V899.8h-2.7ZM809.0 880.7h2.7V894.9h-2.7ZM811.7 883.0h2.7V890.6h-2.7ZM814.5 883.6h2.7V894.4h-2.7ZM817.2 878.3h2.7V889.4h-2.7ZM819.9 859.9h2.7V885.9h-2.7ZM822.7 859.9h2.7V871.6h-2.7ZM825.4 810.1h2.7V867.4h-2.7ZM828.1 450.0h2.7V813.5h-2.7ZM830.9 243.0h2.7V348.7h-2.7ZM833.6 488.0h2.7V855.0h-2.7ZM836.3 851.6h2.7V880.2h-2.7ZM839.1 876.8h2.7V886.3h-2.7ZM841.8 874.6h2.7V892.8h-2.7ZM844.5 880.8h2.7V892.8h-2.7ZM847.3 878.1h2.7V890.0h-2.7ZM850.0 873.4h2.7V891.0h-2.7ZM852.7 879.2h2.7V890.3h-2.7ZM855.5 883.0h2.7V898.7h-2.7ZM858.2 873.1h2.7V894.9h-2.7ZM861.0 873.1h2.7V911.6h-2.7ZM863.7 875.9h2.7V900.1h-2.7ZM866.4 875.9h2.7V896.5h-2.7ZM869.2 883.8h2.7V895.6h-2.7ZM871.9 883.9h2.7V894.2h-2.7ZM874.6 882.0h2.7V896.9h-2.7ZM877.4 890.5h2.7V910.7h-2.7ZM880.1 882.4h2.7V901.5h-2.7ZM882.8 882.4h2.7V900.0h-2.7ZM885.6 880.0h2.7V887.7h-2.7ZM888.3 880.0h2.7V892.0h-2.7ZM891.0 888.4h2.7V904.4h-2.7ZM893.8 886.1h2.7V898.8h-2.7ZM896.5 878.4h2.7V898.8h-2.7ZM899.2 881.1h2.7V890.3h-2.7ZM902.0 876.1h2.7V898.0h-2.7ZM904.7 881.5h2.7V889.1h-2.7ZM907.4 880.7h2.7V892.9h-2.7ZM910.2 889.5h2.7V902.5h-2.7ZM912.9 884.0h2.7V902.5h-2.7ZM915.6 884.0h2.7V899.9h-2.7ZM918.4 865.2h2.7V900.5h-2.7ZM921.1 879.2h2.7V893.3h-2.7ZM923.8 879.2h2.7V894.2h-2.7ZM926.6 882.8h2.7V894.2h-2.7ZM929.3 878.1h2.7V897.5h-2.7ZM932.0 878.1h2.7V898.7h-2.7ZM934.8 880.9h2.7V898.7h-2.7ZM937.5 880.9h2.7V895.3h-2.7ZM940.3 875.2h2.7V901.6h-2.7ZM943.0 812.8h2.7V879.4h-2.7ZM945.7 812.8h2.7V895.9h-2.7ZM948.5 872.3h2.7V896.5h-2.7ZM951.2 879.0h2.7V897.5h-2.7ZM953.9 887.8h2.7V901.7h-2.7ZM956.7 888.2h2.7V900.4h-2.7ZM959.4 878.2h2.7V895.3h-2.7ZM962.1 876.9h2.7V888.9h-2.7ZM964.9 874.6h2.7V894.9h-2.7ZM967.6 885.6h2.7V894.9h-2.7ZM970.3 877.2h2.7V891.0h-2.7ZM973.1 879.5h2.7V895.7h-2.7ZM975.8 868.6h2.7V907.1h-2.7ZM978.5 868.6h2.7V896.9h-2.7ZM981.3 869.8h2.7V897.3h-2.7ZM984.0 869.8h2.7V892.9h-2.7ZM986.7 880.1h2.7V895.7h-2.7ZM989.5 883.5h2.7V895.7h-2.7ZM992.2 887.7h2.7V894.5h-2.7ZM994.9 889.3h2.7V898.4h-2.7ZM997.7 885.5h2.7V900.5h-2.7ZM1000.4 884.2h2.7V915.1h-2.7ZM1003.1 884.2h2.7V900.3h-2.7ZM1005.9 877.5h2.7V889.9h-2.7ZM1008.6 873.4h2.7V885.0h-2.7ZM1011.3 855.0h2.7V879.9h-2.7ZM1014.1 813.9h2.7V861.1h-2.7ZM1016.8 857.7h2.7V897.7h-2.7ZM1019.6 882.5h2.7V893.3h-2.7ZM1022.3 883.5h2.7V893.7h-2.7ZM1025.0 886.5h2.7V901.3h-2.7ZM1027.8 884.7h2.7V899.1h-2.7ZM1030.5 882.4h2.7V896.1h-2.7ZM1033.2 886.1h2.7V892.2h-2.7ZM1036.0 877.0h2.7V890.7h-2.7ZM1038.7 872.1h2.7V888.3h-2.7ZM1041.4 884.9h2.7V892.6h-2.7ZM1044.2 883.9h2.7V895.6h-2.7ZM1046.9 885.9h2.7V901.4h-2.7ZM1049.6 880.9h2.7V901.4h-2.7ZM1052.4 879.3h2.7V895.4h-2.7ZM1055.1 879.3h2.7V898.3h-2.7ZM1057.8 888.5h2.7V900.5h-2.7ZM1060.6 879.6h2.7V900.5h-2.7ZM1063.3 878.8h2.7V905.3h-2.7ZM1066.0 878.8h2.7V901.4h-2.7ZM1068.8 880.9h2.7V901.4h-2.7ZM1071.5 868.8h2.7V890.9h-2.7ZM1074.2 868.2h2.7V893.3h-2.7ZM1077.0 880.2h2.7V894.8h-2.7ZM1079.7 831.0h2.7V886.9h-2.7ZM1082.4 824.9h2.7V894.3h-2.7ZM1085.2 858.9h2.7V894.3h-2.7ZM1087.9 837.7h2.7V882.7h-2.7ZM1090.6 879.3h2.7V897.4h-2.7ZM1093.4 883.4h2.7V902.8h-2.7ZM1096.1 879.9h2.7V902.8h-2.7ZM1098.9 874.9h2.7V894.6h-2.7ZM1101.6 883.1h2.7V895.7h-2.7ZM1104.3 879.9h2.7V897.5h-2.7ZM1107.1 877.6h2.7V897.5h-2.7ZM1109.8 875.4h2.7V895.4h-2.7ZM1112.5 884.5h2.7V895.4h-2.7ZM1115.3 880.7h2.7V896.7h-2.7ZM1118.0 885.5h2.7V903.2h-2.7ZM1120.7 887.2h2.7V904.8h-2.7ZM1123.5 881.5h2.7V910.5h-2.7ZM1126.2 898.5h2.7V910.5h-2.7ZM1128.9 881.4h2.7V901.9h-2.7ZM1131.7 881.4h2.7V893.5h-2.7ZM1134.4 879.7h2.7V892.4h-2.7ZM1137.1 879.7h2.7V898.6h-2.7ZM1139.9 870.5h2.7V891.4h-2.7ZM1142.6 866.7h2.7V891.4h-2.7ZM1145.3 873.7h2.7V884.8h-2.7ZM1148.1 880.9h2.7V898.6h-2.7ZM1150.8 862.9h2.7V894.2h-2.7ZM1153.5 889.3h2.7V902.5h-2.7ZM1156.3 885.9h2.7V903.7h-2.7ZM1159.0 869.1h2.7V900.3h-2.7ZM1161.7 866.4h2.7V900.3h-2.7ZM1164.5 841.1h2.7V875.5h-2.7ZM1167.2 830.1h2.7V870.5h-2.7ZM1169.9 866.7h2.7V873.7h-2.7ZM1172.7 870.3h2.7V905.3h-2.7ZM1175.4 883.8h2.7V905.3h-2.7ZM1178.2 873.6h2.7V900.9h-2.7ZM1180.9 882.3h2.7V895.3h-2.7ZM1183.6 884.1h2.7V899.2h-2.7ZM1186.4 891.0h2.7V900.0h-2.7ZM1189.1 863.6h2.7V900.0h-2.7ZM1191.8 861.9h2.7V875.9h-2.7ZM1194.6 770.4h2.7V865.3h-2.7ZM1197.3 770.4h2.7V831.7h-2.7ZM1200.0 828.3h2.7V869.4h-2.7ZM1202.8 769.1h2.7V838.4h-2.7ZM1205.5 769.1h2.7V867.6h-2.7ZM1208.2 864.2h2.7V899.9h-2.7ZM1211.0 874.1h2.7V891.3h-2.7ZM1213.7 862.9h2.7V889.7h-2.7ZM1216.4 878.1h2.7V891.6h-2.7ZM1219.2 879.9h2.7V895.9h-2.7ZM1221.9 884.1h2.7V902.3h-2.7ZM1224.6 877.7h2.7V897.6h-2.7ZM1227.4 866.1h2.7V890.7h-2.7ZM1230.1 879.6h2.7V901.0h-2.7ZM1232.8 886.3h2.7V901.0h-2.7ZM1235.6 876.2h2.7V889.7h-2.7ZM1238.3 865.2h2.7V887.2h-2.7ZM1241.0 865.2h2.7V893.5h-2.7ZM1243.8 879.2h2.7V893.5h-2.7ZM1246.5 879.2h2.7V910.0h-2.7ZM1249.2 883.5h2.7V906.0h-2.7ZM1252.0 878.8h2.7V893.1h-2.7ZM1254.7 887.3h2.7V897.5h-2.7ZM1257.5 880.6h2.7V902.3h-2.7ZM1260.2 876.2h2.7V884.0h-2.7ZM1262.9 876.2h2.7V894.9h-2.7ZM1265.7 881.0h2.7V894.9h-2.7ZM1268.4 880.0h2.7V891.9h-2.7ZM1271.1 877.1h2.7V893.9h-2.7ZM1273.9 878.4h2.7V890.4h-2.7ZM1276.6 884.6h2.7V900.7h-2.7ZM1279.3 885.3h2.7V901.5h-2.7ZM1282.1 874.6h2.7V894.8h-2.7ZM1284.8 882.4h2.7V897.6h-2.7ZM1287.5 876.0h2.7V889.8h-2.7ZM1290.3 876.0h2.7V891.2h-2.7ZM1293.0 881.0h2.7V890.7h-2.7ZM1295.7 881.0h2.7V898.6h-2.7ZM1298.5 879.5h2.7V902.9h-2.7ZM1301.2 882.0h2.7V903.6h-2.7ZM1303.9 874.7h2.7V891.9h-2.7ZM1306.7 869.6h2.7V887.9h-2.7ZM1309.4 873.7h2.7V897.7h-2.7ZM1312.1 883.2h2.7V897.7h-2.7ZM1314.9 873.6h2.7V896.9h-2.7ZM1317.6 872.3h2.7V901.5h-2.7ZM1320.3 872.3h2.7V898.4h-2.7ZM1323.1 874.5h2.7V898.4h-2.7ZM1325.8 870.2h2.7V893.2h-2.7ZM1328.6 867.4h2.7V890.9h-2.7ZM1331.3 881.0h2.7V907.5h-2.7ZM1334.0 885.1h2.7V899.8h-2.7ZM1336.8 877.1h2.7V899.8h-2.7ZM1339.5 882.5h2.7V888.6h-2.7ZM1342.2 882.4h2.7V891.7h-2.7ZM1345.0 883.4h2.7V894.5h-2.7ZM1347.7 881.3h2.7V894.5h-2.7ZM1350.4 877.1h2.7V893.6h-2.7ZM1353.2 868.9h2.7V887.1h-2.7ZM1355.9 854.8h2.7V872.3h-2.7ZM1358.6 850.3h2.7V869.8h-2.7ZM1361.4 860.3h2.7V877.0h-2.7ZM1364.1 870.4h2.7V889.7h-2.7ZM1366.8 881.6h2.7V889.4h-2.7ZM1369.6 867.0h2.7V889.4h-2.7ZM1372.3 867.0h2.7V893.2h-2.7ZM1375.0 880.0h2.7V895.9h-2.7ZM1377.8 880.3h2.7V892.4h-2.7ZM1380.5 882.2h2.7V909.7h-2.7ZM1383.2 882.5h2.7V894.7h-2.7ZM1386.0 880.5h2.7V898.4h-2.7ZM1388.7 887.3h2.7V909.4h-2.7ZM1391.4 874.5h2.7V909.4h-2.7ZM1394.2 874.5h2.7V884.3h-2.7ZM1396.9 872.3h2.7V894.9h-2.7ZM1399.6 874.7h2.7V894.9h-2.7ZM1402.4 880.6h2.7V898.6h-2.7ZM1405.1 875.4h2.7V898.8h-2.7ZM1407.9 877.5h2.7V898.8h-2.7ZM1410.6 877.0h2.7V899.1h-2.7ZM1413.3 867.3h2.7V889.0h-2.7ZM1416.1 870.5h2.7V889.0h-2.7ZM1418.8 874.4h2.7V887.4h-2.7ZM1421.5 857.8h2.7V886.1h-2.7ZM1424.3 844.2h2.7V865.2h-2.7ZM1427.0 837.8h2.7V865.4h-2.7ZM1429.7 858.3h2.7V879.3h-2.7ZM1432.5 870.8h2.7V892.5h-2.7ZM1435.2 863.2h2.7V888.7h-2.7ZM1437.9 863.2h2.7V894.6h-2.7ZM1440.7 878.3h2.7V892.5h-2.7ZM1443.4 877.3h2.7V883.8h-2.7ZM1446.1 853.9h2.7V880.7h-2.7ZM1448.9 853.9h2.7V878.9h-2.7ZM1451.6 842.3h2.7V875.5h-2.7ZM1454.3 849.5h2.7V874.3h-2.7ZM1457.1 870.9h2.7V884.6h-2.7ZM1459.8 867.2h2.7V883.8h-2.7ZM1462.5 876.3h2.7V888.2h-2.7ZM1465.3 877.5h2.7V892.1h-2.7ZM1468.0 870.9h2.7V892.1h-2.7ZM1470.7 873.7h2.7V886.5h-2.7ZM1473.5 871.8h2.7V888.0h-2.7ZM1476.2 872.4h2.7V881.5h-2.7ZM1478.9 870.7h2.7V892.1h-2.7ZM1481.7 870.7h2.7V887.6h-2.7ZM1484.4 868.0h2.7V890.8h-2.7ZM1487.2 868.0h2.7V886.1h-2.7ZM1489.9 878.4h2.7V888.8h-2.7ZM1492.6 860.6h2.7V888.8h-2.7ZM1495.4 851.3h2.7V878.3h-2.7ZM1498.1 851.3h2.7V863.2h-2.7ZM1500.8 851.0h2.7V870.4h-2.7ZM1503.6 863.6h2.7V882.8h-2.7ZM1506.3 861.1h2.7V882.8h-2.7ZM1509.0 861.1h2.7V891.0h-2.7ZM1511.8 870.4h2.7V882.2h-2.7ZM1514.5 865.7h2.7V882.1h-2.7ZM1517.2 865.7h2.7V883.7h-2.7ZM1520.0 876.3h2.7V889.0h-2.7ZM1522.7 876.3h2.7V899.5h-2.7ZM1525.4 869.5h2.7V886.2h-2.7ZM1528.2 869.5h2.7V890.3h-2.7ZM1530.9 869.8h2.7V890.1h-2.7ZM1533.6 869.8h2.7V890.0h-2.7ZM1536.4 867.9h2.7V886.7h-2.7ZM1539.1 867.9h2.7V884.5h-2.7ZM1541.8 866.9h2.7V884.5h-2.7ZM1544.6 865.5h2.7V887.9h-2.7ZM1547.3 865.5h2.7V891.1h-2.7ZM1550.0 874.5h2.7V889.4h-2.7ZM1552.8 872.6h2.7V890.9h-2.7ZM1555.5 878.8h2.7V890.1h-2.7ZM1558.2 857.1h2.7V889.6h-2.7ZM1561.0 857.1h2.7V891.0h-2.7ZM1563.7 872.1h2.7V891.0h-2.7ZM1566.5 872.1h2.7V883.8h-2.7ZM1569.2 865.0h2.7V879.3h-2.7ZM1571.9 870.2h2.7V884.0h-2.7ZM1574.7 871.6h2.7V889.9h-2.7ZM1577.4 856.8h2.7V875.0h-2.7ZM1580.1 870.8h2.7V894.5h-2.7ZM1582.9 874.0h2.7V894.5h-2.7ZM1585.6 876.2h2.7V891.4h-2.7ZM1588.3 857.2h2.7V887.3h-2.7ZM1591.1 876.9h2.7V888.8h-2.7ZM1593.8 877.2h2.7V888.8h-2.7ZM1596.5 876.1h2.7V888.9h-2.7ZM1599.3 865.9h2.7V887.4h-2.7ZM1602.0 865.9h2.7V892.8h-2.7ZM1604.7 878.3h2.7V892.8h-2.7ZM1607.5 874.2h2.7V889.9h-2.7ZM1610.2 873.9h2.7V886.2h-2.7ZM1612.9 873.9h2.7V884.3h-2.7ZM1615.7 870.2h2.7V884.1h-2.7ZM1618.4 871.2h2.7V881.5h-2.7ZM1621.1 868.5h2.7V883.4h-2.7ZM1623.9 876.4h2.7V891.6h-2.7ZM1626.6 861.4h2.7V885.8h-2.7ZM1629.3 861.4h2.7V879.1h-2.7ZM1632.1 867.4h2.7V880.1h-2.7ZM1634.8 871.8h2.7V878.2h-2.7ZM1637.5 874.3h2.7V890.5h-2.7ZM1640.3 868.3h2.7V887.2h-2.7ZM1643.0 863.7h2.7V893.1h-2.7ZM1645.8 862.4h2.7V881.9h-2.7ZM1648.5 862.4h2.7V882.2h-2.7ZM1651.2 866.2h2.7V893.1h-2.7ZM1654.0 874.4h2.7V893.1h-2.7ZM1656.7 871.6h2.7V893.6h-2.7ZM1659.4 871.3h2.7V893.6h-2.7ZM1662.2 873.6h2.7V889.2h-2.7ZM1664.9 877.7h2.7V894.6h-2.7ZM1667.6 853.5h2.7V894.6h-2.7ZM1670.4 853.5h2.7V883.5h-2.7ZM1673.1 862.0h2.7V883.5h-2.7ZM1675.8 873.3h2.7V884.5h-2.7ZM1678.6 881.1h2.7V893.3h-2.7ZM1681.3 869.8h2.7V889.8h-2.7ZM1684.0 873.7h2.7V886.5h-2.7ZM1686.8 865.3h2.7V887.0h-2.7ZM1689.5 876.4h2.7V887.0h-2.7ZM1692.2 867.3h2.7V881.9h-2.7ZM1695.0 870.9h2.7V885.8h-2.7ZM1697.7 873.2h2.7V895.0h-2.7ZM1700.4 871.8h2.7V895.0h-2.7ZM1703.2 871.9h2.7V888.8h-2.7ZM1705.9 874.5h2.7V888.8h-2.7ZM1708.6 876.7h2.7V896.5h-2.7ZM1711.4 872.6h2.7V896.5h-2.7ZM1714.1 870.2h2.7V888.6h-2.7ZM1716.8 874.1h2.7V894.7h-2.7ZM1719.6 873.9h2.7V894.7h-2.7ZM1722.3 875.1h2.7V886.8h-2.7ZM1725.1 873.3h2.7V879.7h-2.7ZM1727.8 860.0h2.7V879.7h-2.7ZM1730.5 869.3h2.7V881.7h-2.7ZM1733.3 868.7h2.7V898.5h-2.7ZM1736.0 879.1h2.7V898.5h-2.7ZM1738.7 875.8h2.7V889.8h-2.7ZM1741.5 875.1h2.7V886.6h-2.7ZM1744.2 874.9h2.7V886.0h-2.7ZM1746.9 874.9h2.7V888.9h-2.7ZM1749.7 878.4h2.7V897.5h-2.7ZM1752.4 853.8h2.7V897.5h-2.7ZM1755.1 873.3h2.7V892.6h-2.7ZM1757.9 871.3h2.7V892.6h-2.7ZM1760.6 864.8h2.7V896.3h-2.7ZM1763.3 875.9h2.7V885.4h-2.7ZM1766.1 871.4h2.7V893.7h-2.7ZM1768.8 865.0h2.7V887.7h-2.7ZM1771.5 878.1h2.7V889.4h-2.7ZM1774.3 871.7h2.7V881.5h-2.7ZM1777.0 875.2h2.7V880.7h-2.7ZM1779.7 871.9h2.7V891.1h-2.7ZM1782.5 873.0h2.7V889.5h-2.7ZM1785.2 852.6h2.7V889.5h-2.7ZM1787.9 852.6h2.7V890.2h-2.7ZM1790.7 871.8h2.7V882.2h-2.7ZM1793.4 862.2h2.7V883.3h-2.7ZM1796.1 862.2h2.7V884.2h-2.7ZM1798.9 872.2h2.7V890.6h-2.7ZM1801.6 864.3h2.7V890.6h-2.7ZM1804.4 859.5h2.7V871.8h-2.7ZM1807.1 859.5h2.7V887.2h-2.7ZM1809.8 872.3h2.7V887.2h-2.7ZM1812.6 868.9h2.7V877.5h-2.7ZM1815.3 861.4h2.7V878.9h-2.7ZM1818.0 857.2h2.7V878.9h-2.7ZM1820.8 857.2h2.7V876.1h-2.7ZM1823.5 852.6h2.7V884.5h-2.7ZM1826.2 869.4h2.7V892.2h-2.7ZM1829.0 871.0h2.7V891.8h-2.7ZM1831.7 871.0h2.7V880.2h-2.7ZM1834.4 867.3h2.7V879.2h-2.7ZM1837.2 856.9h2.7V888.9h-2.7ZM1839.9 872.5h2.7V884.9h-2.7ZM1842.6 867.7h2.7V884.9h-2.7ZM1845.4 861.6h2.7V883.3h-2.7ZM1848.1 857.6h2.7V872.3h-2.7ZM1850.8 857.6h2.7V879.4h-2.7ZM1853.6 859.2h2.7V889.4h-2.7ZM1856.3 856.9h2.7V868.7h-2.7ZM1859.0 855.4h2.7V877.6h-2.7ZM1861.8 855.4h2.7V890.8h-2.7ZM1864.5 869.6h2.7V888.2h-2.7ZM1867.2 857.3h2.7V888.2h-2.7ZM1870.0 861.6h2.7V870.3h-2.7Z"/><path fill="#0000ff" d="M617.6 955.7h2.7V999.0h-2.7ZM620.3 970.8h2.7V1000.0h-2.7ZM623.0 985.1h2.7V996.3h-2.7ZM625.8 984.7h2.7V999.1h-2.7ZM628.5 982.7h2.7V992.6h-2.7ZM631.3 984.4h2.7V994.0h-2.7ZM634.0 982.7h2.7V995.2h-2.7ZM636.7 973.3h2.7V992.7h-2.7ZM639.5 973.3h2.7V1001.0h-2.7ZM642.2 979.8h2.7V996.6h-2.7ZM644.9 987.3h2.7V997.7h-2.7ZM647.7 983.1h2.7V997.7h-2.7ZM650.4 982.0h2.7V995.4h-2.7ZM653.1 987.6h2.7V1006.3h-2.7ZM655.9 978.4h2.7V1001.4h-2.7ZM658.6 975.8h2.7V1001.4h-2.7ZM661.3 975.8h2.7V997.4h-2.7ZM664.1 980.0h2.7V999.1h-2.7ZM666.8 990.0h2.7V1008.1h-2.7ZM669.5 982.9h2.7V997.8h-2.7ZM672.3 982.8h2.7V993.2h-2.7ZM675.0 975.1h2.7V991.1h-2.7ZM677.7 968.7h2.7V994.9h-2.7ZM680.5 984.4h2.7V999.1h-2.7ZM683.2 982.8h2.7V995.2h-2.7ZM685.9 982.8h2.7V1016.2h-2.7ZM688.7 976.5h2.7V994.8h-2.7ZM691.4 975.0h2.7V994.8h-2.7ZM694.1 963.8h2.7V980.3h-2.7ZM696.9 835.1h2.7V976.3h-2.7ZM699.6 842.4h2.7V969.9h-2.7ZM702.3 966.5h2.7V980.5h-2.7ZM705.1 974.1h2.7V987.5h-2.7ZM707.8 984.1h2.7V995.8h-2.7ZM710.6 983.0h2.7V1002.5h-2.7ZM713.3 975.2h2.7V997.2h-2.7ZM716.0 972.8h2.7V991.4h-2.7ZM718.8 972.8h2.7V994.3h-2.7ZM721.5 982.8h2.7V1016.3h-2.7ZM724.2 983.3h2.7V990.7h-2.7ZM727.0 984.6h2.7V993.2h-2.7ZM729.7 983.8h2.7V989.9h-2.7ZM732.4 983.1h2.7V999.4h-2.7ZM735.2 981.1h2.7V1003.2h-2.7ZM737.9 986.6h2.7V1003.8h-2.7ZM740.6 976.5h2.7V991.3h-2.7ZM743.4 977.1h2.7V988.3h-2.7ZM746.1 974.4h2.7V992.2h-2.7ZM748.8 981.7h2.7V1001.6h-2.7ZM751.6 981.7h2.7V999.7h-2.7ZM754.3 982.7h2.7V990.7h-2.7ZM757.0 987.3h2.7V993.6h-2.7ZM759.8 975.6h2.7V993.0h-2.7ZM762.5 967.8h2.7V989.3h-2.7ZM765.2 977.2h2.7V989.1h-2.7ZM768.0 976.5h2.7V990.4h-2.7ZM770.7 980.8h2.7V995.9h-2.7ZM773.4 972.1h2.7V995.9h-2.7ZM776.2 976.4h2.7V995.2h-2.7ZM778.9 978.1h2.7V993.3h-2.7ZM781.7 984.7h2.7V996.7h-2.7ZM784.4 967.5h2.7V991.2h-2.7ZM787.1 967.5h2.7V987.7h-2.7ZM789.9 977.8h2.7V1000.5h-2.7ZM792.6 976.5h2.7V1002.9h-2.7ZM795.3 963.9h2.7V1002.9h-2.7ZM798.1 966.5h2.7V986.4h-2.7ZM800.8 972.3h2.7V986.4h-2.7ZM803.5 972.3h2.7V991.6h-2.7ZM806.3 965.8h2.7V976.5h-2.7ZM809.0 954.9h2.7V971.7h-2.7ZM811.7 954.9h2.7V985.5h-2.7ZM814.5 961.2h2.7V986.8h-2.7ZM817.2 954.5h2.7V970.2h-2.7ZM819.9 940.9h2.7V965.3h-2.7ZM822.7 937.8h2.7V957.2h-2.7ZM825.4 813.6h2.7V956.3h-2.7ZM828.1 670.2h2.7V817.0h-2.7ZM830.9 718.4h2.7V942.7h-2.7ZM833.6 939.3h2.7V956.4h-2.7ZM836.3 948.0h2.7V973.8h-2.7ZM839.1 963.2h2.7V974.4h-2.7ZM841.8 963.2h2.7V972.1h-2.7ZM844.5 965.2h2.7V986.8h-2.7ZM847.3 963.0h2.7V977.6h-2.7ZM850.0 962.9h2.7V978.7h-2.7ZM852.7 956.6h2.7V968.5h-2.7ZM855.5 953.5h2.7V963.9h-2.7ZM858.2 960.5h2.7V978.1h-2.7ZM861.0 967.5h2.7V978.1h-2.7ZM863.7 961.7h2.7V980.6h-2.7ZM866.4 964.6h2.7V983.3h-2.7ZM869.2 962.4h2.7V982.0h-2.7ZM871.9 964.1h2.7V977.5h-2.7ZM874.6 964.1h2.7V988.5h-2.7ZM877.4 966.4h2.7V988.5h-2.7ZM880.1 955.8h2.7V974.3h-2.7ZM882.8 955.8h2.7V979.3h-2.7ZM885.6 959.8h2.7V979.3h-2.7ZM888.3 959.8h2.7V988.7h-2.7ZM891.0 958.8h2.7V977.2h-2.7ZM893.8 966.8h2.7V977.2h-2.7ZM896.5 965.0h2.7V975.9h-2.7ZM899.2 964.1h2.7V977.2h-2.7ZM902.0 957.8h2.7V995.2h-2.7ZM904.7 953.9h2.7V972.9h-2.7ZM907.4 959.2h2.7V977.6h-2.7ZM910.2 955.9h2.7V970.9h-2.7ZM912.9 955.9h2.7V976.3h-2.7ZM915.6 962.4h2.7V974.3h-2.7ZM918.4 968.9h2.7V982.2h-2.7ZM921.1 958.3h2.7V982.2h-2.7ZM923.8 958.3h2.7V982.5h-2.7ZM926.6 968.2h2.7V982.5h-2.7ZM929.3 964.8h2.7V977.7h-2.7ZM932.0 957.0h2.7V974.6h-2.7ZM934.8 955.8h2.7V973.7h-2.7ZM937.5 949.6h2.7V963.0h-2.7ZM940.3 890.2h2.7V954.7h-2.7ZM943.0 894.2h2.7V956.8h-2.7ZM945.7 950.9h2.7V971.4h-2.7ZM948.5 957.2h2.7V973.6h-2.7ZM951.2 969.2h2.7V982.0h-2.7ZM953.9 962.7h2.7V974.8h-2.7ZM956.7 958.0h2.7V972.5h-2.7ZM959.4 958.0h2.7V983.4h-2.7ZM962.1 967.6h2.7V983.4h-2.7ZM964.9 967.6h2.7V979.7h-2.7ZM967.6 958.3h2.7V977.8h-2.7ZM970.3 942.6h2.7V971.3h-2.7ZM973.1 953.1h2.7V978.1h-2.7ZM975.8 959.5h2.7V973.9h-2.7ZM978.5 956.6h2.7V973.4h-2.7ZM981.3 953.5h2.7V975.5h-2.7ZM984.0 960.2h2.7V975.5h-2.7ZM986.7 960.4h2.7V969.0h-2.7ZM989.5 960.3h2.7V979.4h-2.7ZM992.2 958.7h2.7V975.5h-2.7ZM994.9 956.6h2.7V969.6h-2.7ZM997.7 960.2h2.7V986.0h-2.7ZM1000.4 956.0h2.7V986.0h-2.7ZM1003.1 955.2h2.7V971.5h-2.7ZM1005.9 951.5h2.7V981.1h-2.7ZM1008.6 951.5h2.7V975.1h-2.7ZM1011.3 869.2h2.7V975.1h-2.7ZM1014.1 869.2h2.7V941.6h-2.7ZM1016.8 938.2h2.7V967.9h-2.7ZM1019.6 943.3h2.7V967.9h-2.7ZM1022.3 943.3h2.7V962.3h-2.7ZM1025.0 958.9h2.7V970.1h-2.7ZM1027.8 960.1h2.7V970.6h-2.7ZM1030.5 957.9h2.7V968.2h-2.7ZM1033.2 952.1h2.7V968.0h-2.7ZM1036.0 952.1h2.7V983.4h-2.7ZM1038.7 958.4h2.7V983.4h-2.7ZM1041.4 957.1h2.7V971.2h-2.7ZM1044.2 957.1h2.7V972.1h-2.7ZM1046.9 959.3h2.7V977.2h-2.7ZM1049.6 951.0h2.7V962.7h-2.7ZM1052.4 954.7h2.7V963.3h-2.7ZM1055.1 951.5h2.7V967.2h-2.7ZM1057.8 957.8h2.7V971.4h-2.7ZM1060.6 946.6h2.7V971.4h-2.7ZM1063.3 950.4h2.7V962.6h-2.7ZM1066.0 953.9h2.7V970.0h-2.7ZM1068.8 955.2h2.7V966.5h-2.7ZM1071.5 950.3h2.7V964.1h-2.7ZM1074.2 950.1h2.7V964.2h-2.7ZM1077.0 946.6h2.7V966.1h-2.7ZM1079.7 876.5h2.7V956.3h-2.7ZM1082.4 885.2h2.7V959.1h-2.7ZM1085.2 944.6h2.7V959.1h-2.7ZM1087.9 949.9h2.7V957.1h-2.7ZM1090.6 946.1h2.7V969.6h-2.7ZM1093.4 955.1h2.7V976.4h-2.7ZM1096.1 955.1h2.7V966.2h-2.7ZM1098.9 949.9h2.7V961.1h-2.7ZM1101.6 942.9h2.7V959.2h-2.7ZM1104.3 942.9h2.7V958.2h-2.7ZM1107.1 948.3h2.7V964.1h-2.7ZM1109.8 947.7h2.7V964.1h-2.7ZM1112.5 952.5h2.7V963.5h-2.7ZM1115.3 944.4h2.7V957.7h-2.7ZM1118.0 944.4h2.7V967.2h-2.7ZM1120.7 953.5h2.7V967.2h-2.7ZM1123.5 955.1h2.7V969.0h-2.7ZM1126.2 950.0h2.7V964.0h-2.7ZM1128.9 930.7h2.7V962.3h-2.7ZM1131.7 930.7h2.7V955.2h-2.7ZM1134.4 950.3h2.7V962.5h-2.7ZM1137.1 955.2h2.7V964.5h-2.7ZM1139.9 952.1h2.7V966.9h-2.7ZM1142.6 944.9h2.7V965.6h-2.7ZM1145.3 943.3h2.7V967.2h-2.7ZM1148.1 947.9h2.7V967.8h-2.7ZM1150.8 945.0h2.7V967.8h-2.7ZM1153.5 944.3h2.7V958.7h-2.7ZM1156.3 926.6h2.7V958.7h-2.7ZM1159.0 921.0h2.7V941.4h-2.7ZM1161.7 903.5h2.7V941.4h-2.7ZM1164.5 903.5h2.7V951.8h-2.7ZM1167.2 942.0h2.7V956.3h-2.7ZM1169.9 942.0h2.7V968.2h-2.7ZM1172.7 945.7h2.7V971.9h-2.7ZM1175.4 945.7h2.7V961.8h-2.7ZM1178.2 947.9h2.7V967.5h-2.7ZM1180.9 936.1h2.7V955.4h-2.7ZM1183.6 936.1h2.7V955.3h-2.7ZM1186.4 945.5h2.7V959.5h-2.7ZM1189.1 942.4h2.7V959.5h-2.7ZM1191.8 941.2h2.7V951.5h-2.7ZM1194.6 891.3h2.7V944.6h-2.7ZM1197.3 843.0h2.7V894.7h-2.7ZM1200.0 850.3h2.7V883.8h-2.7ZM1202.8 841.9h2.7V878.2h-2.7ZM1205.5 874.8h2.7V949.8h-2.7ZM1208.2 946.4h2.7V954.9h-2.7ZM1211.0 939.4h2.7V960.7h-2.7ZM1213.7 940.0h2.7V960.7h-2.7ZM1216.4 946.0h2.7V959.5h-2.7ZM1219.2 946.4h2.7V964.5h-2.7ZM1221.9 946.4h2.7V965.5h-2.7ZM1224.6 947.1h2.7V969.5h-2.7ZM1227.4 946.2h2.7V969.5h-2.7ZM1230.1 948.5h2.7V956.2h-2.7ZM1232.8 941.5h2.7V956.1h-2.7ZM1235.6 947.7h2.7V955.7h-2.7ZM1238.3 944.6h2.7V962.9h-2.7ZM1241.0 936.0h2.7V962.9h-2.7ZM1243.8 939.1h2.7V964.7h-2.7ZM1246.5 954.3h2.7V967.1h-2.7ZM1249.2 954.4h2.7V967.1h-2.7ZM1252.0 942.4h2.7V958.4h-2.7ZM1254.7 942.4h2.7V957.2h-2.7ZM1257.5 953.8h2.7V974.3h-2.7ZM1260.2 941.9h2.7V974.3h-2.7ZM1262.9 941.0h2.7V952.7h-2.7ZM1265.7 948.3h2.7V953.7h-2.7ZM1268.4 941.6h2.7V966.3h-2.7ZM1271.1 948.9h2.7V966.3h-2.7ZM1273.9 936.5h2.7V958.9h-2.7ZM1276.6 938.6h2.7V958.9h-2.7ZM1279.3 955.2h2.7V967.2h-2.7ZM1282.1 950.1h2.7V965.2h-2.7ZM1284.8 945.8h2.7V965.2h-2.7ZM1287.5 945.8h2.7V957.3h-2.7ZM1290.3 947.2h2.7V957.5h-2.7ZM1293.0 950.4h2.7V962.6h-2.7ZM1295.7 938.0h2.7V957.5h-2.7ZM1298.5 945.7h2.7V964.5h-2.7ZM1301.2 945.4h2.7V960.9h-2.7ZM1303.9 943.1h2.7V952.7h-2.7ZM1306.7 943.1h2.7V966.8h-2.7ZM1309.4 947.8h2.7V965.5h-2.7ZM1312.1 937.8h2.7V965.5h-2.7ZM1314.9 937.8h2.7V964.8h-2.7ZM1317.6 946.4h2.7V964.8h-2.7ZM1320.3 941.0h2.7V965.5h-2.7ZM1323.1 935.4h2.7V960.1h-2.7ZM1325.8 937.1h2.7V952.0h-2.7ZM1328.6 944.6h2.7V964.8h-2.7ZM1331.3 947.6h2.7V964.8h-2.7ZM1334.0 941.3h2.7V961.7h-2.7ZM1336.8 941.3h2.7V959.0h-2.7ZM1339.5 953.5h2.7V964.3h-2.7ZM1342.2 948.8h2.7V958.8h-2.7ZM1345.0 945.5h2.7V957.2h-2.7ZM1347.7 925.1h2.7V957.2h-2.7ZM1350.4 925.1h2.7V944.1h-2.7ZM1353.2 918.0h2.7V938.7h-2.7ZM1355.9 907.8h2.7V932.9h-2.7ZM1358.6 907.8h2.7V945.6h-2.7ZM1361.4 934.5h2.7V946.1h-2.7ZM1364.1 940.5h2.7V959.3h-2.7ZM1366.8 946.6h2.7V957.7h-2.7ZM1369.6 941.4h2.7V951.8h-2.7ZM1372.3 941.4h2.7V962.5h-2.7ZM1375.0 945.5h2.7V962.5h-2.7ZM1377.8 944.0h2.7V961.3h-2.7ZM1380.5 944.0h2.7V953.8h-2.7ZM1383.2 943.1h2.7V956.8h-2.7ZM1386.0 937.0h2.7V956.8h-2.7ZM1388.7 943.1h2.7V955.2h-2.7ZM1391.4 942.3h2.7V952.3h-2.7ZM1394.2 937.4h2.7V950.7h-2.7ZM1396.9 940.9h2.7V966.5h-2.7ZM1399.6 951.3h2.7V966.5h-2.7ZM1402.4 946.9h2.7V961.8h-2.7ZM1405.1 941.7h2.7V954.9h-2.7ZM1407.9 948.2h2.7V971.4h-2.7ZM1410.6 949.9h2.7V971.4h-2.7ZM1413.3 936.1h2.7V953.9h-2.7ZM1416.1 927.9h2.7V948.6h-2.7ZM1418.8 927.9h2.7V940.6h-2.7ZM1421.5 923.6h2.7V940.6h-2.7ZM1424.3 919.2h2.7V934.1h-2.7ZM1427.0 925.3h2.7V947.1h-2.7ZM1429.7 925.3h2.7V946.9h-2.7ZM1432.5 939.3h2.7V956.4h-2.7ZM1435.2 944.9h2.7V956.4h-2.7ZM1437.9 940.3h2.7V951.2h-2.7ZM1440.7 940.3h2.7V946.6h-2.7ZM1443.4 941.0h2.7V952.1h-2.7ZM1446.1 947.5h2.7V961.5h-2.7ZM1448.9 922.9h2.7V950.9h-2.7ZM1451.6 934.8h2.7V953.9h-2.7ZM1454.3 929.6h2.7V953.9h-2.7ZM1457.1 945.8h2.7V964.5h-2.7ZM1459.8 942.1h2.7V961.5h-2.7ZM1462.5 940.1h2.7V966.2h-2.7ZM1465.3 933.3h2.7V951.8h-2.7ZM1468.0 930.0h2.7V958.5h-2.7ZM1470.7 930.0h2.7V954.6h-2.7ZM1473.5 932.9h2.7V954.6h-2.7ZM1476.2 929.0h2.7V951.7h-2.7ZM1478.9 946.3h2.7V961.2h-2.7ZM1481.7 950.7h2.7V972.9h-2.7ZM1484.4 936.0h2.7V972.9h-2.7ZM1487.2 940.9h2.7V952.3h-2.7ZM1489.9 925.5h2.7V952.3h-2.7ZM1492.6 919.6h2.7V931.6h-2.7ZM1495.4 907.3h2.7V926.5h-2.7ZM1498.1 919.7h2.7V944.9h-2.7ZM1500.8 932.4h2.7V954.4h-2.7ZM1503.6 935.9h2.7V954.4h-2.7ZM1506.3 930.5h2.7V955.5h-2.7ZM1509.0 943.6h2.7V956.1h-2.7ZM1511.8 943.3h2.7V965.0h-2.7ZM1514.5 943.3h2.7V950.7h-2.7ZM1517.2 943.7h2.7V952.5h-2.7ZM1520.0 941.0h2.7V952.3h-2.7ZM1522.7 944.5h2.7V958.7h-2.7ZM1525.4 942.6h2.7V959.9h-2.7ZM1528.2 939.0h2.7V956.3h-2.7ZM1530.9 933.5h2.7V956.6h-2.7ZM1533.6 938.5h2.7V956.6h-2.7ZM1536.4 942.2h2.7V956.2h-2.7ZM1539.1 929.5h2.7V950.0h-2.7ZM1541.8 934.0h2.7V952.6h-2.7ZM1544.6 946.7h2.7V962.0h-2.7ZM1547.3 950.6h2.7V964.4h-2.7ZM1550.0 949.0h2.7V964.4h-2.7ZM1552.8 948.2h2.7V965.3h-2.7ZM1555.5 941.0h2.7V951.7h-2.7ZM1558.2 939.3h2.7V954.7h-2.7ZM1561.0 945.6h2.7V954.9h-2.7ZM1563.7 943.8h2.7V958.3h-2.7ZM1566.5 946.9h2.7V958.3h-2.7ZM1569.2 942.1h2.7V958.3h-2.7ZM1571.9 942.2h2.7V956.1h-2.7ZM1574.7 940.0h2.7V955.5h-2.7ZM1577.4 938.0h2.7V955.5h-2.7ZM1580.1 947.8h2.7V955.7h-2.7ZM1582.9 947.3h2.7V955.7h-2.7ZM1585.6 940.6h2.7V965.3h-2.7ZM1588.3 940.6h2.7V960.1h-2.7ZM1591.1 941.5h2.7V960.5h-2.7ZM1593.8 940.3h2.7V956.6h-2.7ZM1596.5 948.0h2.7V961.4h-2.7ZM1599.3 943.3h2.7V960.0h-2.7ZM1602.0 941.3h2.7V956.6h-2.7ZM1604.7 945.5h2.7V960.5h-2.7ZM1607.5 945.5h2.7V958.9h-2.7ZM1610.2 930.7h2.7V957.3h-2.7ZM1612.9 944.3h2.7V956.5h-2.7ZM1615.7 938.5h2.7V956.5h-2.7ZM1618.4 934.4h2.7V951.0h-2.7ZM1621.1 938.1h2.7V954.3h-2.7ZM1623.9 947.4h2.7V955.7h-2.7ZM1626.6 947.9h2.7V961.3h-2.7ZM1629.3 948.6h2.7V961.3h-2.7ZM1632.1 944.9h2.7V963.0h-2.7ZM1634.8 944.9h2.7V974.4h-2.7ZM1637.5 954.9h2.7V974.4h-2.7ZM1640.3 956.2h2.7V964.0h-2.7ZM1643.0 942.0h2.7V961.1h-2.7ZM1645.8 938.2h2.7V949.7h-2.7ZM1648.5 942.0h2.7V949.9h-2.7ZM1651.2 932.7h2.7V954.7h-2.7ZM1654.0 942.9h2.7V954.8h-2.7ZM1656.7 947.0h2.7V957.1h-2.7ZM1659.4 939.2h2.7V957.1h-2.7ZM1662.2 939.2h2.7V964.6h-2.7ZM1664.9 939.7h2.7V951.3h-2.7ZM1667.6 940.2h2.7V953.1h-2.7ZM1670.4 940.2h2.7V955.0h-2.7ZM1673.1 945.4h2.7V955.7h-2.7ZM1675.8 935.7h2.7V953.7h-2.7ZM1678.6 941.7h2.7V958.4h-2.7ZM1681.3 941.7h2.7V963.2h-2.7ZM1684.0 941.4h2.7V962.3h-2.7ZM1686.8 934.1h2.7V957.6h-2.7ZM1689.5 945.0h2.7V956.8h-2.7ZM1692.2 944.3h2.7V959.0h-2.7ZM1695.0 941.4h2.7V959.0h-2.7ZM1697.7 939.2h2.7V954.5h-2.7ZM1700.4 939.2h2.7V953.5h-2.7ZM1703.2 939.7h2.7V961.0h-2.7ZM1705.9 942.1h2.7V953.7h-2.7ZM1708.6 932.4h2.7V953.7h-2.7ZM1711.4 939.1h2.7V955.5h-2.7ZM1714.1 945.2h2.7V952.8h-2.7ZM1716.8 936.4h2.7V949.2h-2.7ZM1719.6 938.9h2.7V953.3h-2.7ZM1722.3 936.2h2.7V955.5h-2.7ZM1725.1 930.3h2.7V945.7h-2.7ZM1727.8 930.3h2.7V945.1h-2.7ZM1730.5 939.0h2.7V946.7h-2.7ZM1733.3 936.3h2.7V961.9h-2.7ZM1736.0 936.3h2.7V950.2h-2.7ZM1738.7 937.3h2.7V956.0h-2.7ZM1741.5 930.8h2.7V956.5h-2.7ZM1744.2 940.8h2.7V955.9h-2.7ZM1746.9 942.3h2.7V955.7h-2.7ZM1749.7 931.7h2.7V945.7h-2.7ZM1752.4 931.7h2.7V940.7h-2.7ZM1755.1 932.8h2.7V949.1h-2.7ZM1757.9 924.6h2.7V948.2h-2.7ZM1760.6 935.8h2.7V949.7h-2.7ZM1763.3 943.0h2.7V949.8h-2.7ZM1766.1 928.2h2.7V949.8h-2.7ZM1768.8 934.0h2.7V947.8h-2.7ZM1771.5 940.7h2.7V947.8h-2.7ZM1774.3 931.2h2.7V948.6h-2.7ZM1777.0 926.9h2.7V942.0h-2.7ZM1779.7 926.3h2.7V947.2h-2.7ZM1782.5 926.3h2.7V940.1h-2.7ZM1785.2 927.5h2.7V945.0h-2.7ZM1787.9 920.3h2.7V942.1h-2.7ZM1790.7 920.3h2.7V951.4h-2.7ZM1793.4 933.4h2.7V955.5h-2.7ZM1796.1 922.9h2.7V955.5h-2.7ZM1798.9 917.5h2.7V947.9h-2.7ZM1801.6 935.3h2.7V947.9h-2.7ZM1804.4 931.0h2.7V944.9h-2.7ZM1807.1 930.4h2.7V937.2h-2.7ZM1809.8 928.1h2.7V941.0h-2.7ZM1812.6 923.1h2.7V934.9h-2.7ZM1815.3 923.1h2.7V941.6h-2.7ZM1818.0 924.7h2.7V939.6h-2.7ZM1820.8 918.5h2.7V928.1h-2.7ZM1823.5 919.1h2.7V940.8h-2.7ZM1826.2 926.3h2.7V944.9h-2.7ZM1829.0 923.7h2.7V935.6h-2.7ZM1831.7 920.6h2.7V943.0h-2.7ZM1834.4 920.6h2.7V945.3h-2.7ZM1837.2 927.2h2.7V944.4h-2.7ZM1839.9 921.7h2.7V944.4h-2.7ZM1842.6 907.4h2.7V938.0h-2.7ZM1845.4 921.0h2.7V938.2h-2.7ZM1848.1 917.2h2.7V938.2h-2.7ZM1850.8 917.2h2.7V929.0h-2.7ZM1853.6 925.6h2.7V938.1h-2.7ZM1856.3 917.1h2.7V929.7h-2.7ZM1859.0 924.4h2.7V937.8h-2.7ZM1861.8 923.3h2.7V932.9h-2.7ZM1864.5 923.3h2.7V938.1h-2.7ZM1867.2 917.0h2.7V933.0h-2.7ZM1870.0 917.0h2.7V933.8h-2.7Z"/>
<polygon points="829.20,209.75 831.80,209.75 843.90,225.20 843.90,227.80 831.80,243.25 829.20,243.25 817.10,227.80 817.10,225.20" fill="#000"/><polygon points="702.30,696.15 704.90,696.15 717.00,711.60 717.00,714.20 704.90,729.65 702.30,729.65 690.20,714.20 690.20,711.60" fill="#000"/><polygon points="947.90,783.55 950.50,783.55 962.60,799.00 962.60,801.60 950.50,817.05 947.90,817.05 935.80,801.60 935.80,799.00" fill="#000"/><polygon points="1019.20,788.75 1021.80,788.75 1033.90,804.20 1033.90,806.80 1021.80,822.25 1019.20,822.25 1007.10,806.80 1007.10,804.20" fill="#000"/><polygon points="1085.90,794.75 1088.50,794.75 1100.60,810.20 1100.60,812.80 1088.50,828.25 1085.90,828.25 1073.80,812.80 1073.80,810.20" fill="#000"/><polygon points="1171.50,821.75 1174.10,821.75 1186.20,837.20 1186.20,839.80 1174.10,855.25 1171.50,855.25 1159.40,839.80 1159.40,837.20" fill="#000"/><polygon points="1202.70,750.65 1205.30,750.65 1217.40,766.10 1217.40,768.70 1205.30,784.15 1202.70,784.15 1190.60,768.70 1190.60,766.10" fill="#000"/><polygon points="1356.80,824.45 1359.40,824.45 1371.50,839.90 1371.50,842.50 1359.40,857.95 1356.80,857.95 1344.70,842.50 1344.70,839.90" fill="#000"/><polygon points="1429.30,817.95 1431.90,817.95 1444.00,833.40 1444.00,836.00 1431.90,851.45 1429.30,851.45 1417.20,836.00 1417.20,833.40" fill="#000"/><polygon points="1502.90,821.85 1505.50,821.85 1517.60,837.30 1517.60,839.90 1505.50,855.35 1502.90,855.35 1490.80,839.90 1490.80,837.30" fill="#000"/><polygon points="818.20,1043.85 820.80,1043.85 832.90,1059.30 832.90,1061.90 820.80,1077.35 818.20,1077.35 806.10,1061.90 806.10,1059.30" fill="#000"/><polygon points="1190.70,1094.65 1193.30,1094.65 1205.40,1110.10 1205.40,1112.70 1193.30,1128.15 1190.70,1128.15 1178.60,1112.70 1178.60,1110.10" fill="#000"/><circle cx="1397.9" cy="619" r="11.25" fill="#000"/><circle cx="1027" cy="918.8" r="11.25" fill="#000"/><circle cx="1634.7" cy="772.5" r="11.25" fill="#000"/><circle cx="916.5" cy="1076" r="11.25" fill="#000"/><circle cx="917.5" cy="1189" r="11.25" fill="#000"/><circle cx="1714.2" cy="1123.7" r="11.25" fill="#000"/><circle cx="1722.5" cy="1236" r="11.25" fill="#000"/><path d="M975.00,1120.80 L958.65,1102.30 L958.65,1090.30 Q958.65,1085.80 963.46,1085.80 L969.48,1085.80 L975.00,1094.30 L980.02,1085.80 L986.54,1085.80 Q991.35,1085.80 991.35,1090.30 L991.35,1102.30 Z" fill="#000"/><path d="M975.00,1238.20 L958.65,1219.70 L958.65,1207.70 Q958.65,1203.20 963.46,1203.20 L969.48,1203.20 L975.00,1211.70 L980.02,1203.20 L986.54,1203.20 Q991.35,1203.20 991.35,1207.70 L991.35,1219.70 Z" fill="#000"/><path d="M1048.50,1218.50 L1032.15,1200.00 L1032.15,1188.00 Q1032.15,1183.50 1036.96,1183.50 L1042.98,1183.50 L1048.50,1192.00 L1053.52,1183.50 L1060.04,1183.50 Q1064.85,1183.50 1064.85,1188.00 L1064.85,1200.00 Z" fill="#000"/><ellipse cx="529" cy="234.8" rx="12.0" ry="11.25" fill="#000"/><polygon points="524.90,332.55 527.50,332.55 540.95,350.50 540.95,353.10 527.50,371.05 524.90,371.05 511.45,353.10 511.45,350.50" fill="#000"/><path d="M526.20,477.80 L510.85,460.46 L510.85,449.22 Q510.85,445.00 515.37,445.00 L521.02,445.00 L526.20,452.97 L530.91,445.00 L537.03,445.00 Q541.55,445.00 541.55,449.22 L541.55,460.46 Z" fill="#000"/>
<text x="437.5" y="1440.5" font-family="Liberation Sans, Arial, sans-serif" font-size="50" text-anchor="middle">10</text><text x="616.5" y="1440.5" font-family="Liberation Sans, Arial, sans-serif" font-size="50" text-anchor="middle">20</text><text x="795.5" y="1440.5" font-family="Liberation Sans, Arial, sans-serif" font-size="50" text-anchor="middle">30</text><text x="974.5" y="1440.5" font-family="Liberation Sans, Arial, sans-serif" font-size="50" text-anchor="middle">40</text><text x="1153.5" y="1440.5" font-family="Liberation Sans, Arial, sans-serif" font-size="50" text-anchor="middle">50</text><text x="1332.5" y="1440.5" font-family="Liberation Sans, Arial, sans-serif" font-size="50" text-anchor="middle">60</text><text x="1511.5" y="1440.5" font-family="Liberation Sans, Arial, sans-serif" font-size="50" text-anchor="middle">70</text><text x="1690.5" y="1440.5" font-family="Liberation Sans, Arial, sans-serif" font-size="50" text-anchor="middle">80</text><text x="1869.5" y="1440.5" font-family="Liberation Sans, Arial, sans-serif" font-size="50" text-anchor="middle">90</text><text x="2048.5" y="1440.5" font-family="Liberation Sans, Arial, sans-serif" font-size="50" text-anchor="middle">100</text><text transform="translate(560.919,252.965) scale(1.01501,1.02202)" font-family="Liberation Sans, Arial, sans-serif" font-size="64">Fe</text><text transform="translate(568.541,370.476) scale(0.99084,1.02155)" font-family="Liberation Sans, Arial, sans-serif" font-size="64">FeCO</text><text transform="translate(739.551,392.500) scale(0.91835,1.05784)" font-family="Liberation Sans, Arial, sans-serif" font-size="37">3</text><text transform="translate(568.613,478.477) scale(0.97773,1.00078)" font-family="Liberation Sans, Arial, sans-serif" font-size="64">Fe</text><text transform="translate(644.111,501.499) scale(0.88889,1.15592)" font-family="Liberation Sans, Arial, sans-serif" font-size="37">3</text><text transform="translate(664.223,478.433) scale(0.92564,1.06445)" font-family="Liberation Sans, Arial, sans-serif" font-size="64">C</text><text transform="translate(1475.014,282.497) scale(0.99225,0.99006)" font-family="Liberation Sans, Arial, sans-serif" font-size="64">00-006-0696 Fe</text><text transform="translate(1475.013,361.516) scale(0.99269,0.99006)" font-family="Liberation Sans, Arial, sans-serif" font-size="64">00-029-0696 FeCO</text><text transform="translate(2023.519,384.978) scale(0.97430,1.05839)" font-family="Liberation Sans, Arial, sans-serif" font-size="37">3</text><text transform="translate(1475.017,457.993) scale(0.99113,0.99006)" font-family="Liberation Sans, Arial, sans-serif" font-size="64">00-035-0772 Fe</text><text transform="translate(1929.079,480.007) scale(0.86483,1.01981)" font-family="Liberation Sans, Arial, sans-serif" font-size="37">3</text><text transform="translate(1949.179,457.968) scale(0.93788,1.03232)" font-family="Liberation Sans, Arial, sans-serif" font-size="64">C</text><text transform="translate(482.088,913.056) scale(0.98125,0.96983)" font-family="Liberation Sans, Arial, sans-serif" font-size="64">168h</text><text transform="translate(479.000,1014.991) scale(1.00004,0.94731)" font-family="Liberation Sans, Arial, sans-serif" font-size="64">114h</text><text transform="translate(497.014,1123.521) scale(0.99505,0.97917)" font-family="Liberation Sans, Arial, sans-serif" font-size="64">66h</text><text transform="translate(497.014,1229.987) scale(0.99505,1.00027)" font-family="Liberation Sans, Arial, sans-serif" font-size="64">20h</text><text transform="translate(1082.262,1557.994) scale(1.04671,1.00048)" font-family="Liberation Serif, Times New Roman, serif" font-size="108">2</text><text transform="translate(1138.821,1557.058) scale(1.03577,0.94172)" font-family="Liberation Serif, Times New Roman, serif" font-size="108">θ</text><text transform="translate(1195.116,1557.620) scale(0.97096,0.96480)" font-family="Liberation Serif, Times New Roman, serif" font-size="108">,</text><text transform="translate(1246.939,1554.053) scale(0.88794,0.94118)" font-family="Liberation Serif, Times New Roman, serif" font-size="108">d</text><text transform="translate(1301.241,1556.560) scale(0.93777,0.94247)" font-family="Liberation Serif, Times New Roman, serif" font-size="108">e</text><text transform="translate(1352.690,1552.534) scale(0.86191,0.78277)" font-family="Liberation Serif, Times New Roman, serif" font-size="108">g</text>
<text transform="translate(379.502,557.047) scale(0.99333,0.93529) rotate(-90)" font-family="Liberation Serif, Times New Roman, serif" font-size="108">S</text><text transform="translate(380.510,607.613) scale(1.02212,0.86809) rotate(-90)" font-family="Liberation Serif, Times New Roman, serif" font-size="108">P</text><text transform="translate(379.502,660.466) scale(0.99333,0.74207) rotate(-90)" font-family="Liberation Serif, Times New Roman, serif" font-size="108">C</text><text transform="translate(375.860,766.053) scale(0.87329,0.94258) rotate(-90)" font-family="Liberation Serif, Noto Serif CJK SC, serif" font-size="108">，</text><text transform="translate(374.317,813.394) scale(0.85625,0.88704) rotate(-90)" font-family="Liberation Serif, Times New Roman, serif" font-size="108">y</text><text transform="translate(379.485,866.462) scale(1.01628,1.44738) rotate(-90)" font-family="Liberation Serif, Times New Roman, serif" font-size="108">t</text><text transform="translate(380.500,913.546) scale(0.98650,1.26995) rotate(-90)" font-family="Liberation Serif, Times New Roman, serif" font-size="108">i</text><text transform="translate(379.564,970.536) scale(0.94246,1.13274) rotate(-90)" font-family="Liberation Serif, Times New Roman, serif" font-size="108">s</text><text transform="translate(380.000,1024.329) scale(0.95114,0.91018) rotate(-90)" font-family="Liberation Serif, Times New Roman, serif" font-size="108">n</text><text transform="translate(379.564,1076.625) scale(0.94246,1.02561) rotate(-90)" font-family="Liberation Serif, Times New Roman, serif" font-size="108">e</text><text transform="translate(379.000,1125.356) scale(1.00000,1.34031) rotate(-90)" font-family="Liberation Serif, Times New Roman, serif" font-size="108">t</text><text transform="translate(380.000,1182.961) scale(0.95114,0.98057) rotate(-90)" font-family="Liberation Serif, Times New Roman, serif" font-size="108">n</text><text transform="translate(380.000,1229.146) scale(1.00008,1.16082) rotate(-90)" font-family="Liberation Serif, Times New Roman, serif" font-size="108">I</text>
</svg>
</body></html>
